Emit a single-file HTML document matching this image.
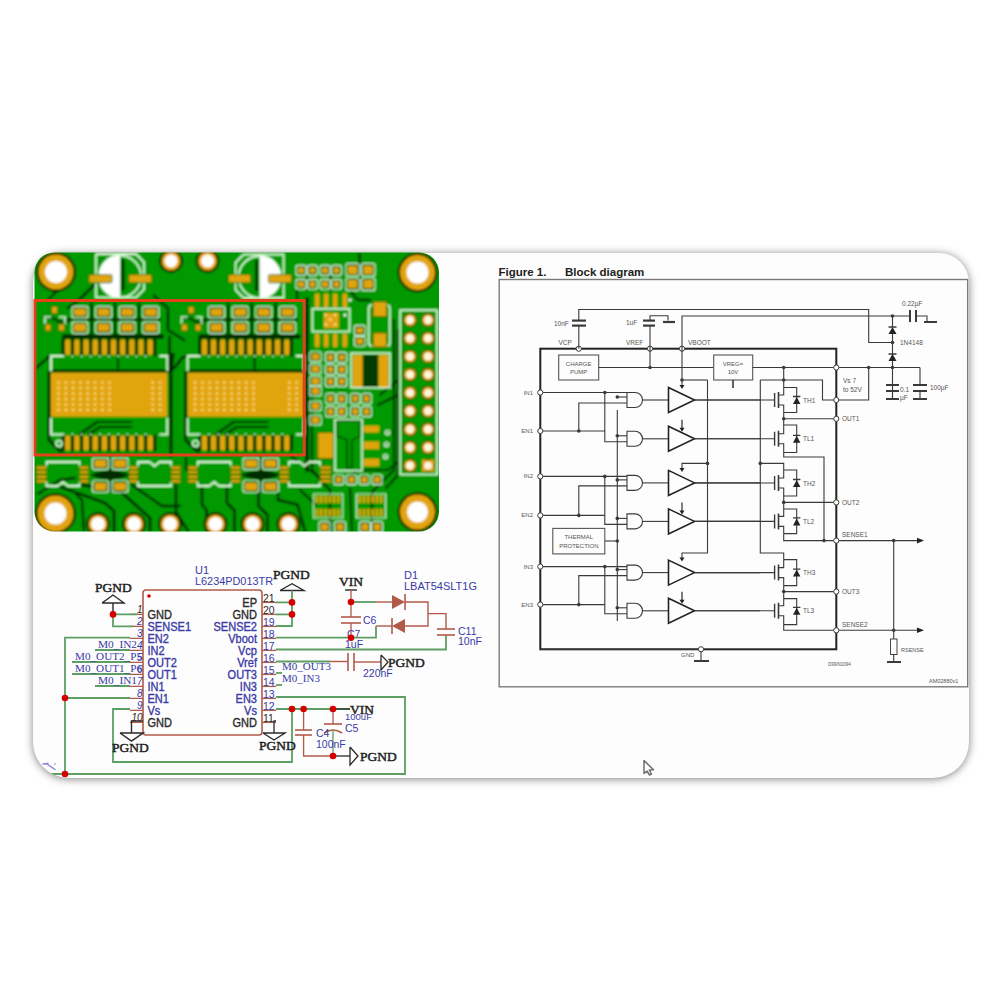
<!DOCTYPE html><html><head><meta charset="utf-8"><style>html,body{margin:0;padding:0;background:#fff;width:1000px;height:1000px;overflow:hidden}#panel{position:absolute;left:32.5px;top:253px;width:936.5px;height:525px;border-radius:30px 30px 36px 36px;background:#fdfdfd;box-shadow:0 1px 9px rgba(0,0,0,0.5)}svg{position:absolute;left:0;top:0}</style></head><body><div id="panel"></div>
<svg width="1000" height="1000" viewBox="0 0 1000 1000">
<defs><clipPath id="panelclip"><path d="M62.5,253 L939,253 A30,30 0 0 1 969,283 L969,742 A36,36 0 0 1 933,778 L68.5,778 A36,36 0 0 1 32.5,742 L32.5,283 A30,30 0 0 1 62.5,253 Z"/></clipPath></defs>
<g clip-path="url(#panelclip)">
<rect x="143" y="590" width="119" height="145" rx="3" fill="none" stroke="#b25a4a" stroke-width="1.6"/>
<path d="M130.0,614.4 L143.0,614.4" fill="none" stroke="#b25a4a" stroke-width="1.3" />
<path d="M130.0,626.4 L143.0,626.4" fill="none" stroke="#b25a4a" stroke-width="1.3" />
<path d="M130.0,638.4 L143.0,638.4" fill="none" stroke="#b25a4a" stroke-width="1.3" />
<path d="M130.0,650.4 L143.0,650.4" fill="none" stroke="#b25a4a" stroke-width="1.3" />
<path d="M130.0,662.4 L143.0,662.4" fill="none" stroke="#b25a4a" stroke-width="1.3" />
<path d="M130.0,674.4 L143.0,674.4" fill="none" stroke="#b25a4a" stroke-width="1.3" />
<path d="M130.0,686.4 L143.0,686.4" fill="none" stroke="#b25a4a" stroke-width="1.3" />
<path d="M130.0,698.4 L143.0,698.4" fill="none" stroke="#b25a4a" stroke-width="1.3" />
<path d="M130.0,710.4 L143.0,710.4" fill="none" stroke="#b25a4a" stroke-width="1.3" />
<path d="M130.0,722.4 L143.0,722.4" fill="none" stroke="#b25a4a" stroke-width="1.3" />
<path d="M262.0,602.4 L276.0,602.4" fill="none" stroke="#b25a4a" stroke-width="1.3" />
<path d="M262.0,614.4 L276.0,614.4" fill="none" stroke="#b25a4a" stroke-width="1.3" />
<path d="M262.0,626.4 L276.0,626.4" fill="none" stroke="#b25a4a" stroke-width="1.3" />
<path d="M262.0,638.4 L276.0,638.4" fill="none" stroke="#b25a4a" stroke-width="1.3" />
<path d="M262.0,650.4 L276.0,650.4" fill="none" stroke="#b25a4a" stroke-width="1.3" />
<path d="M262.0,662.4 L276.0,662.4" fill="none" stroke="#b25a4a" stroke-width="1.3" />
<path d="M262.0,674.4 L276.0,674.4" fill="none" stroke="#b25a4a" stroke-width="1.3" />
<path d="M262.0,686.4 L276.0,686.4" fill="none" stroke="#b25a4a" stroke-width="1.3" />
<path d="M262.0,698.4 L276.0,698.4" fill="none" stroke="#b25a4a" stroke-width="1.3" />
<path d="M262.0,710.4 L276.0,710.4" fill="none" stroke="#b25a4a" stroke-width="1.3" />
<path d="M262.0,722.4 L276.0,722.4" fill="none" stroke="#b25a4a" stroke-width="1.3" />
<text transform="translate(147.5,618.8) scale(0.92,1)" font-family="Liberation Sans" font-size="12" fill="#2a2a2a" stroke="#2a2a2a" stroke-width="0.35">GND</text>
<text transform="translate(147.5,630.8) scale(0.92,1)" font-family="Liberation Sans" font-size="12" fill="#3a3aa6" stroke="#3a3aa6" stroke-width="0.35">SENSE1</text>
<text transform="translate(147.5,642.8) scale(0.92,1)" font-family="Liberation Sans" font-size="12" fill="#3a3aa6" stroke="#3a3aa6" stroke-width="0.35">EN2</text>
<text transform="translate(147.5,654.8) scale(0.92,1)" font-family="Liberation Sans" font-size="12" fill="#3a3aa6" stroke="#3a3aa6" stroke-width="0.35">IN2</text>
<text transform="translate(147.5,666.8) scale(0.92,1)" font-family="Liberation Sans" font-size="12" fill="#3a3aa6" stroke="#3a3aa6" stroke-width="0.35">OUT2</text>
<text transform="translate(147.5,678.8) scale(0.92,1)" font-family="Liberation Sans" font-size="12" fill="#3a3aa6" stroke="#3a3aa6" stroke-width="0.35">OUT1</text>
<text transform="translate(147.5,690.8) scale(0.92,1)" font-family="Liberation Sans" font-size="12" fill="#3a3aa6" stroke="#3a3aa6" stroke-width="0.35">IN1</text>
<text transform="translate(147.5,702.8) scale(0.92,1)" font-family="Liberation Sans" font-size="12" fill="#3a3aa6" stroke="#3a3aa6" stroke-width="0.35">EN1</text>
<text transform="translate(147.5,714.8) scale(0.92,1)" font-family="Liberation Sans" font-size="12" fill="#3a3aa6" stroke="#3a3aa6" stroke-width="0.35">Vs</text>
<text transform="translate(147.5,726.8) scale(0.92,1)" font-family="Liberation Sans" font-size="12" fill="#2a2a2a" stroke="#2a2a2a" stroke-width="0.35">GND</text>
<text transform="translate(257,606.8) scale(0.92,1)" font-family="Liberation Sans" font-size="12" fill="#2a2a2a" stroke="#2a2a2a" stroke-width="0.35" text-anchor="end">EP</text>
<text transform="translate(257,618.8) scale(0.92,1)" font-family="Liberation Sans" font-size="12" fill="#2a2a2a" stroke="#2a2a2a" stroke-width="0.35" text-anchor="end">GND</text>
<text transform="translate(257,630.8) scale(0.92,1)" font-family="Liberation Sans" font-size="12" fill="#3a3aa6" stroke="#3a3aa6" stroke-width="0.35" text-anchor="end">SENSE2</text>
<text transform="translate(257,642.8) scale(0.92,1)" font-family="Liberation Sans" font-size="12" fill="#3a3aa6" stroke="#3a3aa6" stroke-width="0.35" text-anchor="end">Vboot</text>
<text transform="translate(257,654.8) scale(0.92,1)" font-family="Liberation Sans" font-size="12" fill="#3a3aa6" stroke="#3a3aa6" stroke-width="0.35" text-anchor="end">Vcp</text>
<text transform="translate(257,666.8) scale(0.92,1)" font-family="Liberation Sans" font-size="12" fill="#3a3aa6" stroke="#3a3aa6" stroke-width="0.35" text-anchor="end">Vref</text>
<text transform="translate(257,678.8) scale(0.92,1)" font-family="Liberation Sans" font-size="12" fill="#3a3aa6" stroke="#3a3aa6" stroke-width="0.35" text-anchor="end">OUT3</text>
<text transform="translate(257,690.8) scale(0.92,1)" font-family="Liberation Sans" font-size="12" fill="#3a3aa6" stroke="#3a3aa6" stroke-width="0.35" text-anchor="end">IN3</text>
<text transform="translate(257,702.8) scale(0.92,1)" font-family="Liberation Sans" font-size="12" fill="#3a3aa6" stroke="#3a3aa6" stroke-width="0.35" text-anchor="end">EN3</text>
<text transform="translate(257,714.8) scale(0.92,1)" font-family="Liberation Sans" font-size="12" fill="#3a3aa6" stroke="#3a3aa6" stroke-width="0.35" text-anchor="end">Vs</text>
<text transform="translate(257,726.8) scale(0.92,1)" font-family="Liberation Sans" font-size="12" fill="#2a2a2a" stroke="#2a2a2a" stroke-width="0.35" text-anchor="end">GND</text>
<text x="142.5" y="612.9" font-family="Liberation Sans" font-size="10" fill="#2a2a2a" text-anchor="end" font-style="italic">1</text>
<text x="142.5" y="624.9" font-family="Liberation Sans" font-size="10" fill="#3a3aa6" text-anchor="end" font-style="italic">2</text>
<text x="142.5" y="636.9" font-family="Liberation Sans" font-size="10" fill="#3a3aa6" text-anchor="end" font-style="italic">3</text>
<text x="142.5" y="648.9" font-family="Liberation Sans" font-size="10" fill="#3a3aa6" text-anchor="end" font-style="italic">4</text>
<text x="142.5" y="660.9" font-family="Liberation Sans" font-size="10" fill="#3a3aa6" text-anchor="end" font-style="italic">5</text>
<text x="142.5" y="672.9" font-family="Liberation Sans" font-size="10" fill="#3a3aa6" text-anchor="end" font-style="italic">6</text>
<text x="142.5" y="684.9" font-family="Liberation Sans" font-size="10" fill="#3a3aa6" text-anchor="end" font-style="italic">7</text>
<text x="142.5" y="696.9" font-family="Liberation Sans" font-size="10" fill="#3a3aa6" text-anchor="end" font-style="italic">8</text>
<text x="142.5" y="708.9" font-family="Liberation Sans" font-size="10" fill="#3a3aa6" text-anchor="end" font-style="italic">9</text>
<text x="142.5" y="720.9" font-family="Liberation Sans" font-size="10" fill="#2a2a2a" text-anchor="end" font-style="italic">10</text>
<text x="263" y="601.5" font-family="Liberation Sans" font-size="10.5" fill="#2a2a2a" text-anchor="start" >21</text>
<text x="263" y="613.5" font-family="Liberation Sans" font-size="10.5" fill="#2a2a2a" text-anchor="start" >20</text>
<text x="263" y="625.5" font-family="Liberation Sans" font-size="10.5" fill="#3a3aa6" text-anchor="start" >19</text>
<text x="263" y="637.5" font-family="Liberation Sans" font-size="10.5" fill="#3a3aa6" text-anchor="start" >18</text>
<text x="263" y="649.5" font-family="Liberation Sans" font-size="10.5" fill="#3a3aa6" text-anchor="start" >17</text>
<text x="263" y="661.5" font-family="Liberation Sans" font-size="10.5" fill="#3a3aa6" text-anchor="start" >16</text>
<text x="263" y="673.5" font-family="Liberation Sans" font-size="10.5" fill="#3a3aa6" text-anchor="start" >15</text>
<text x="263" y="685.5" font-family="Liberation Sans" font-size="10.5" fill="#3a3aa6" text-anchor="start" >14</text>
<text x="263" y="697.5" font-family="Liberation Sans" font-size="10.5" fill="#3a3aa6" text-anchor="start" >13</text>
<text x="263" y="709.5" font-family="Liberation Sans" font-size="10.5" fill="#3a3aa6" text-anchor="start" >12</text>
<text x="263" y="721.5" font-family="Liberation Sans" font-size="10.5" fill="#2a2a2a" text-anchor="start" >11</text>
<text x="195" y="574" font-family="Liberation Sans" font-size="11" fill="#3a3aa6" text-anchor="start" >U1</text>
<text x="195" y="585" font-family="Liberation Sans" font-size="11" fill="#3a3aa6" text-anchor="start" textLength="78" lengthAdjust="spacingAndGlyphs">L6234PD013TR</text>
<text x="95" y="591.5" font-family="Liberation Serif" font-size="13.5" fill="#222" text-anchor="start" stroke="#222" stroke-width="0.45">PGND</text>
<path d="M102.0,603.0 L113.0,595.0 L124.0,603.0 L102.0,603.0" fill="none" stroke="#2a2a2a" stroke-width="1.4" />
<path d="M113.0,603.0 L113.0,614.4" fill="none" stroke="#2a2a2a" stroke-width="1.4" />
<path d="M113.0,614.4 L113.0,626.4 L133.0,626.4" fill="none" stroke="#5d9e62" stroke-width="1.8" />
<path d="M113.0,614.4 L137.0,614.4" fill="none" stroke="#5d9e62" stroke-width="1.8" />
<path d="M130.0,637.6 L65.0,637.6 L65.0,775.0" fill="none" stroke="#5d9e62" stroke-width="1.8" />
<path d="M65.0,698.0 L130.0,698.0" fill="none" stroke="#5d9e62" stroke-width="1.8" />
<path d="M95.0,650.0 L130.0,650.0" fill="none" stroke="#5d9e62" stroke-width="1.8" />
<text x="98" y="647.5" font-family="Liberation Serif" font-size="11" fill="#3a3aa6" text-anchor="start" textLength="39" lengthAdjust="spacingAndGlyphs">M0_IN2</text>
<path d="M72.0,662.0 L130.0,662.0" fill="none" stroke="#5d9e62" stroke-width="1.8" />
<text x="75" y="659.5" font-family="Liberation Serif" font-size="11" fill="#3a3aa6" text-anchor="start" textLength="67" lengthAdjust="spacingAndGlyphs">M0_OUT2_P5</text>
<path d="M72.0,674.0 L130.0,674.0" fill="none" stroke="#5d9e62" stroke-width="1.8" />
<text x="75" y="671.5" font-family="Liberation Serif" font-size="11" fill="#3a3aa6" text-anchor="start" textLength="67" lengthAdjust="spacingAndGlyphs">M0_OUT1_P6</text>
<path d="M95.0,686.0 L130.0,686.0" fill="none" stroke="#5d9e62" stroke-width="1.8" />
<text x="98" y="683.5" font-family="Liberation Serif" font-size="11" fill="#3a3aa6" text-anchor="start" textLength="39" lengthAdjust="spacingAndGlyphs">M0_IN1</text>
<path d="M130.0,709.0 L113.0,709.0 L113.0,762.0 L292.0,762.0 L292.0,709.0" fill="none" stroke="#5d9e62" stroke-width="1.8" />
<path d="M35.0,774.0 L405.0,774.0 L405.0,697.0 L276.0,697.0" fill="none" stroke="#5d9e62" stroke-width="1.8" />
<path d="M143.0,721.0 L131.5,721.0 L131.5,733.0" fill="none" stroke="#2a2a2a" stroke-width="1.4" />
<path d="M120.0,733.0 L131.5,741.0 L143.0,733.0 L120.0,733.0" fill="none" stroke="#2a2a2a" stroke-width="1.5" />
<text x="112" y="752" font-family="Liberation Serif" font-size="13.5" fill="#222" text-anchor="start" stroke="#222" stroke-width="0.45">PGND</text>
<text x="273" y="579" font-family="Liberation Serif" font-size="13.5" fill="#222" text-anchor="start" stroke="#222" stroke-width="0.45">PGND</text>
<path d="M280.0,590.5 L292.0,583.7 L304.0,590.5 L280.0,590.5" fill="none" stroke="#2a2a2a" stroke-width="1.4" />
<path d="M292.0,590.5 L292.0,626.0 L276.0,626.0" fill="none" stroke="#5d9e62" stroke-width="1.8" />
<path d="M276.0,602.4 L292.0,602.4" fill="none" stroke="#5d9e62" stroke-width="1.8" />
<path d="M276.0,614.4 L292.0,614.4" fill="none" stroke="#5d9e62" stroke-width="1.8" />
<path d="M276.0,721.0 L274.0,721.0 L274.0,733.0" fill="none" stroke="#2a2a2a" stroke-width="1.3" />
<path d="M263.0,733.0 L274.0,740.0 L285.0,733.0 L263.0,733.0" fill="none" stroke="#2a2a2a" stroke-width="1.4" />
<text x="259" y="750" font-family="Liberation Serif" font-size="13.5" fill="#222" text-anchor="start" stroke="#222" stroke-width="0.45">PGND</text>
<path d="M276.0,637.7 L351.0,637.7" fill="none" stroke="#5d9e62" stroke-width="1.8" />
<path d="M276.0,649.5 L446.0,649.5 L446.0,635.0" fill="none" stroke="#5d9e62" stroke-width="1.8" />
<path d="M276.0,661.5 L330.0,661.5" fill="none" stroke="#5d9e62" stroke-width="1.8" />
<path d="M330.0,661.5 L348.0,661.5" fill="none" stroke="#b25a4a" stroke-width="1.4" />
<path d="M348.0,653.0 L348.0,671.0" fill="none" stroke="#b25a4a" stroke-width="1.6" />
<path d="M354.0,653.0 L354.0,671.0" fill="none" stroke="#b25a4a" stroke-width="1.6" />
<path d="M354.0,662.0 L381.0,662.0" fill="none" stroke="#b25a4a" stroke-width="1.4" />
<path d="M381.0,655.0 L388.0,662.0 L381.0,670.0 L381.0,655.0" fill="none" stroke="#2a2a2a" stroke-width="1.3" />
<text x="388" y="667" font-family="Liberation Serif" font-size="13.5" fill="#222" text-anchor="start" stroke="#222" stroke-width="0.45">PGND</text>
<text x="363" y="677" font-family="Liberation Sans" font-size="10.5" fill="#3a3aa6" text-anchor="start" >220nF</text>
<path d="M276.0,673.0 L282.0,673.0" fill="none" stroke="#5d9e62" stroke-width="1.8" />
<path d="M276.0,685.0 L282.0,685.0" fill="none" stroke="#5d9e62" stroke-width="1.8" />
<text x="282" y="670" font-family="Liberation Serif" font-size="11" fill="#3a3aa6" text-anchor="start" >M0_OUT3</text>
<text x="282" y="682" font-family="Liberation Serif" font-size="11" fill="#3a3aa6" text-anchor="start" >M0_IN3</text>
<text x="339" y="586" font-family="Liberation Serif" font-size="13.5" fill="#222" text-anchor="start" stroke="#222" stroke-width="0.45">VIN</text>
<path d="M345.0,590.0 L357.0,590.0" fill="none" stroke="#2a2a2a" stroke-width="1.4" />
<path d="M351.0,590.0 L351.0,617.0" fill="none" stroke="#b25a4a" stroke-width="1.3" />
<path d="M341.0,617.0 L361.0,617.0" fill="none" stroke="#b25a4a" stroke-width="1.6" />
<path d="M341.0,623.0 L361.0,623.0" fill="none" stroke="#b25a4a" stroke-width="1.6" />
<path d="M351.0,623.0 L351.0,637.7" fill="none" stroke="#b25a4a" stroke-width="1.3" />
<text x="363" y="624" font-family="Liberation Sans" font-size="10.5" fill="#3a3aa6" text-anchor="start" >C6</text>
<text x="347" y="638" font-family="Liberation Sans" font-size="10.5" fill="#3a3aa6" text-anchor="start" >C7</text>
<text x="345" y="647.5" font-family="Liberation Sans" font-size="10.5" fill="#3a3aa6" text-anchor="start" >1uF</text>
<path d="M351.0,602.0 L376.0,602.0" fill="none" stroke="#5d9e62" stroke-width="1.8" />
<path d="M376.0,602.0 L392.0,602.0" fill="none" stroke="#b25a4a" stroke-width="1.4" />
<path d="M392,595 L405,602 L392,609 Z" fill="#b25a4a"/>
<path d="M405.0,594.0 L405.0,610.0" fill="none" stroke="#b25a4a" stroke-width="1.6" />
<path d="M405.0,602.0 L428.0,602.0 L428.0,626.0 L405.0,626.0" fill="none" stroke="#b25a4a" stroke-width="1.4" />
<path d="M405,619 L392,626 L405,633 Z" fill="#b25a4a"/>
<path d="M392.0,618.0 L392.0,634.0" fill="none" stroke="#b25a4a" stroke-width="1.6" />
<path d="M392.0,626.0 L376.0,626.0" fill="none" stroke="#b25a4a" stroke-width="1.4" />
<path d="M376.0,626.0 L376.0,637.7 L351.0,637.7" fill="none" stroke="#5d9e62" stroke-width="1.8" />
<path d="M428.0,613.6 L446.0,613.6 L446.0,629.0" fill="none" stroke="#b25a4a" stroke-width="1.4" />
<path d="M437.0,629.0 L455.0,629.0" fill="none" stroke="#b25a4a" stroke-width="1.6" />
<path d="M437.0,635.0 L455.0,635.0" fill="none" stroke="#b25a4a" stroke-width="1.6" />
<text x="404" y="579" font-family="Liberation Sans" font-size="11" fill="#3a3aa6" text-anchor="start" >D1</text>
<text x="404" y="590" font-family="Liberation Sans" font-size="11" fill="#3a3aa6" text-anchor="start" >LBAT54SLT1G</text>
<text x="458" y="635" font-family="Liberation Sans" font-size="10.5" fill="#3a3aa6" text-anchor="start" >C11</text>
<text x="458" y="645" font-family="Liberation Sans" font-size="10.5" fill="#3a3aa6" text-anchor="start" >10nF</text>
<path d="M276.0,709.0 L350.0,709.0" fill="none" stroke="#5d9e62" stroke-width="1.8" />
<path d="M303.6,709.0 L303.6,730.0" fill="none" stroke="#b25a4a" stroke-width="1.3" />
<path d="M295.0,730.0 L312.0,730.0" fill="none" stroke="#b25a4a" stroke-width="1.6" />
<path d="M295.0,735.0 L312.0,735.0" fill="none" stroke="#b25a4a" stroke-width="1.6" />
<path d="M303.6,735.0 L303.6,756.0 L333.0,756.0" fill="none" stroke="#b25a4a" stroke-width="1.3" />
<path d="M333.0,709.0 L333.0,724.0" fill="none" stroke="#b25a4a" stroke-width="1.3" />
<path d="M324.0,724.0 L342.0,724.0" fill="none" stroke="#b25a4a" stroke-width="1.6" />
<path d="M324,733 Q333,727 342,733" fill="none" stroke="#b25a4a" stroke-width="1.6"/>
<path d="M333.0,730.0 L333.0,756.0" fill="none" stroke="#5d9e62" stroke-width="1.3" />
<path d="M333.0,756.0 L350.0,756.0" fill="none" stroke="#2a2a2a" stroke-width="1.3" />
<path d="M350.0,747.0 L358.0,756.0 L350.0,765.0 L350.0,747.0" fill="none" stroke="#2a2a2a" stroke-width="1.3" />
<text x="360" y="761" font-family="Liberation Serif" font-size="13.5" fill="#222" text-anchor="start" stroke="#222" stroke-width="0.45">PGND</text>
<path d="M333.0,709.0 L350.0,709.0" fill="none" stroke="#2a2a2a" stroke-width="1.2" />
<text x="350" y="714" font-family="Liberation Serif" font-size="13.5" fill="#222" text-anchor="start" stroke="#222" stroke-width="0.45">VIN</text>
<text x="345" y="720" font-family="Liberation Sans" font-size="9.5" fill="#3a3aa6" text-anchor="start" >100uF</text>
<text x="345" y="732" font-family="Liberation Sans" font-size="10.5" fill="#3a3aa6" text-anchor="start" >C5</text>
<text x="316" y="737" font-family="Liberation Sans" font-size="10.5" fill="#3a3aa6" text-anchor="start" >C4</text>
<text x="316" y="748" font-family="Liberation Sans" font-size="10.5" fill="#3a3aa6" text-anchor="start" >100nF</text>
<path d="M43,764 L48,763.5 M47,764 L55,769.5" stroke="#8282d8" stroke-width="1.4" fill="none" stroke-linecap="round"/>
<circle cx="55" cy="764" r="0.8" fill="#888"/>
<circle cx="149" cy="596" r="1.8" fill="#d40000"/>
<circle cx="113" cy="614.4" r="3.3" fill="#d40000"/>
<circle cx="65" cy="698" r="3.3" fill="#d40000"/>
<circle cx="65" cy="774" r="3.3" fill="#d40000"/>
<circle cx="292" cy="602.4" r="3.3" fill="#d40000"/>
<circle cx="292" cy="614.4" r="3.3" fill="#d40000"/>
<circle cx="351" cy="602" r="3.3" fill="#d40000"/>
<circle cx="351" cy="637.7" r="3.3" fill="#d40000"/>
<circle cx="292" cy="709" r="3.3" fill="#d40000"/>
<circle cx="303.6" cy="709" r="3.3" fill="#d40000"/>
<circle cx="333" cy="709" r="3.3" fill="#d40000"/>
<circle cx="333" cy="756" r="3.3" fill="#d40000"/>
<rect x="499.2" y="279.5" width="468.5" height="407.3" fill="none" stroke="#7a7a7a" stroke-width="1.4"/>
<text x="498.5" y="276" font-family="Liberation Sans" font-weight="bold" font-size="11.5" fill="#222">Figure 1.</text>
<text x="565" y="276" font-family="Liberation Sans" font-weight="bold" font-size="11.5" fill="#222">Block diagram</text>
<rect x="540.3" y="348.7" width="296" height="300.6" fill="none" stroke="#222" stroke-width="2"/>
<circle cx="578.8" cy="348.7" r="2.6" fill="#fff" stroke="#3a3a3a" stroke-width="1"/>
<circle cx="650" cy="348.7" r="2.6" fill="#fff" stroke="#3a3a3a" stroke-width="1"/>
<circle cx="682" cy="348.7" r="2.6" fill="#fff" stroke="#3a3a3a" stroke-width="1"/>
<text x="558.5" y="345" font-family="Liberation Sans" font-size="6.5" fill="#555" text-anchor="start" >VCP</text>
<text x="626" y="345" font-family="Liberation Sans" font-size="6.5" fill="#555" text-anchor="start" >VREF</text>
<text x="688" y="345" font-family="Liberation Sans" font-size="6.5" fill="#555" text-anchor="start" >VBOOT</text>
<path d="M578.8,348.7 L578.8,325.6" fill="none" stroke="#3a3a3a" stroke-width="1.1" />
<path d="M572.0,325.6 L586.0,325.6" fill="none" stroke="#3a3a3a" stroke-width="2.2" />
<path d="M572.0,320.6 L586.0,320.6" fill="none" stroke="#3a3a3a" stroke-width="2.2" />
<path d="M578.8,321.0 L578.8,309.5 L868.7,309.5 L868.7,342.5 L892.5,342.5" fill="none" stroke="#3a3a3a" stroke-width="1.1" />
<text x="554" y="326" font-family="Liberation Sans" font-size="6.5" fill="#555" text-anchor="start" >10nF</text>
<path d="M650.0,348.7 L650.0,325.6" fill="none" stroke="#3a3a3a" stroke-width="1.1" />
<path d="M643.0,325.6 L655.0,325.6" fill="none" stroke="#3a3a3a" stroke-width="2.2" />
<path d="M643.0,320.6 L655.0,320.6" fill="none" stroke="#3a3a3a" stroke-width="2.2" />
<path d="M650.0,321.0 L650.0,315.8 L668.0,315.8 L668.0,320.6" fill="none" stroke="#3a3a3a" stroke-width="1.1" />
<path d="M663.0,322.0 L675.0,322.0" fill="none" stroke="#3a3a3a" stroke-width="2.2" />
<text x="626" y="325" font-family="Liberation Sans" font-size="6.5" fill="#555" text-anchor="start" >1uF</text>
<path d="M682.0,348.7 L682.0,316.0 L892.5,316.0" fill="none" stroke="#3a3a3a" stroke-width="1.1" />
<path d="M892.5,316.0 L910.0,316.0" fill="none" stroke="#3a3a3a" stroke-width="1.1" />
<path d="M910.0,310.0 L910.0,322.0" fill="none" stroke="#3a3a3a" stroke-width="2" />
<path d="M916.0,310.0 L916.0,322.0" fill="none" stroke="#3a3a3a" stroke-width="2" />
<path d="M916.0,316.0 L927.0,316.0 L927.0,321.0" fill="none" stroke="#3a3a3a" stroke-width="1.1" />
<path d="M924.0,322.0 L937.0,322.0" fill="none" stroke="#3a3a3a" stroke-width="2" />
<text x="902" y="306" font-family="Liberation Sans" font-size="6.5" fill="#555" text-anchor="start" >0.22µF</text>
<circle cx="892.5" cy="316" r="1.8" fill="#3a3a3a"/>
<circle cx="892.5" cy="342.5" r="1.8" fill="#3a3a3a"/>
<circle cx="892.5" cy="367.5" r="1.8" fill="#3a3a3a"/>
<path d="M892.5,316.0 L892.5,400.0" fill="none" stroke="#3a3a3a" stroke-width="1.1" />
<path d="M888.5,334 L896.5,334 L892.5,327 Z" fill="#222"/>
<path d="M888.5,327.0 L896.5,327.0" fill="none" stroke="#3a3a3a" stroke-width="1.3" />
<path d="M888.5,361 L896.5,361 L892.5,354 Z" fill="#222"/>
<path d="M888.5,354.0 L896.5,354.0" fill="none" stroke="#3a3a3a" stroke-width="1.3" />
<text x="900" y="345" font-family="Liberation Sans" font-size="6.5" fill="#555" text-anchor="start" >1N4148</text>
<path d="M886.0,385.0 L899.0,385.0" fill="none" stroke="#3a3a3a" stroke-width="2.2" />
<path d="M886.0,391.0 L899.0,391.0" fill="none" stroke="#3a3a3a" stroke-width="2.2" />
<path d="M886.0,399.0 L899.0,399.0" fill="none" stroke="#3a3a3a" stroke-width="2.2" />
<path d="M920.0,367.5 L920.0,385.0" fill="none" stroke="#3a3a3a" stroke-width="1.1" />
<path d="M913.0,385.0 L927.0,385.0" fill="none" stroke="#3a3a3a" stroke-width="2.2" />
<path d="M913.0,391.0 L927.0,391.0" fill="none" stroke="#3a3a3a" stroke-width="2.2" />
<path d="M913.0,399.0 L927.0,399.0" fill="none" stroke="#3a3a3a" stroke-width="2.2" />
<path d="M920.0,391.0 L920.0,399.0" fill="none" stroke="#3a3a3a" stroke-width="1.1" />
<path d="M892.5,391.0 L892.5,399.0" fill="none" stroke="#3a3a3a" stroke-width="1.1" />
<text x="900" y="392" font-family="Liberation Sans" font-size="6.5" fill="#555" text-anchor="start" >0.1</text>
<text x="900" y="400" font-family="Liberation Sans" font-size="6.5" fill="#555" text-anchor="start" >µF</text>
<text x="930" y="390" font-family="Liberation Sans" font-size="6.5" fill="#555" text-anchor="start" >100µF</text>
<rect x="558.7" y="355" width="40" height="25" fill="#fdfdfd" stroke="#555" stroke-width="1.1"/>
<text x="578.7" y="366" font-family="Liberation Sans" font-size="6" fill="#555" text-anchor="middle" >CHARGE</text>
<text x="578.7" y="374" font-family="Liberation Sans" font-size="6" fill="#555" text-anchor="middle" >PUMP</text>
<path d="M598.7,367.5 L713.7,367.5" fill="none" stroke="#3a3a3a" stroke-width="1.1" />
<path d="M650.0,348.7 L650.0,367.5" fill="none" stroke="#3a3a3a" stroke-width="1.1" />
<circle cx="650" cy="367.5" r="1.8" fill="#3a3a3a"/>
<rect x="713.7" y="355" width="39" height="25" fill="#fdfdfd" stroke="#555" stroke-width="1.1"/>
<text x="733" y="366" font-family="Liberation Sans" font-size="6" fill="#555" text-anchor="middle" >VREG=</text>
<text x="733" y="374" font-family="Liberation Sans" font-size="6" fill="#555" text-anchor="middle" >10V</text>
<path d="M733.0,380.0 L733.0,388.0" fill="none" stroke="#3a3a3a" stroke-width="1.6" />
<path d="M752.7,367.5 L836.3,367.5" fill="none" stroke="#3a3a3a" stroke-width="1.1" />
<circle cx="836.3" cy="367.5" r="2.6" fill="#fff" stroke="#3a3a3a" stroke-width="1"/>
<path d="M838.9,367.5 L920.0,367.5" fill="none" stroke="#3a3a3a" stroke-width="1.1" />
<path d="M868.7,367.5 L868.7,400.0 L838.9,400.0" fill="none" stroke="#3a3a3a" stroke-width="1.1" />
<circle cx="836.3" cy="400" r="2.6" fill="#fff" stroke="#3a3a3a" stroke-width="1"/>
<circle cx="868.7" cy="367.5" r="1.8" fill="#3a3a3a"/>
<text x="843" y="383" font-family="Liberation Sans" font-size="6.5" fill="#555" text-anchor="start" >Vs 7</text>
<text x="843" y="392" font-family="Liberation Sans" font-size="6.5" fill="#555" text-anchor="start" >to 52V</text>
<rect x="552.8" y="528.4" width="52" height="25.5" fill="#fdfdfd" stroke="#555" stroke-width="1.1"/>
<text x="578.8" y="539" font-family="Liberation Sans" font-size="6" fill="#555" text-anchor="middle" >THERMAL</text>
<text x="578.8" y="548" font-family="Liberation Sans" font-size="6" fill="#555" text-anchor="middle" >PROTECTION</text>
<path d="M604.8,541.0 L617.3,541.0" fill="none" stroke="#3a3a3a" stroke-width="1.1" />
<circle cx="617.3" cy="541" r="1.8" fill="#3a3a3a"/>
<circle cx="540.3" cy="392.5" r="2.6" fill="#fff" stroke="#3a3a3a" stroke-width="1"/>
<circle cx="540.3" cy="431" r="2.6" fill="#fff" stroke="#3a3a3a" stroke-width="1"/>
<path d="M542.8,392.5 L627.0,392.5" fill="none" stroke="#3a3a3a" stroke-width="1.1" />
<path d="M542.8,431.0 L604.8,431.0" fill="none" stroke="#3a3a3a" stroke-width="1.1" />
<circle cx="604.8" cy="392.5" r="1.8" fill="#3a3a3a"/>
<circle cx="578.8" cy="431" r="1.8" fill="#3a3a3a"/>
<path d="M604.8,392.5 L604.8,441.8 L627.0,441.8" fill="none" stroke="#3a3a3a" stroke-width="1.1" />
<path d="M578.8,431.0 L578.8,403.0 L627.0,403.0" fill="none" stroke="#3a3a3a" stroke-width="1.1" />
<path d="M627,392.5 L635,392.5 A7.5,7.5 0 0 1 635,407.5 L627,407.5 Z" fill="#fdfdfd" stroke="#3a3a3a" stroke-width="1.1"/>
<path d="M643.0,400.0 L668.5,400.0" fill="none" stroke="#3a3a3a" stroke-width="1.1" />
<path d="M668.5,387.5 L694.5,400 L668.5,412.5 Z" fill="#fdfdfd" stroke="#222" stroke-width="1.6"/>
<path d="M694.5,400.0 L760.0,400.0" fill="none" stroke="#3a3a3a" stroke-width="1.1" />
<path d="M627,431.3 L635,431.3 A7.5,7.5 0 0 1 635,446.3 L627,446.3 Z" fill="#fdfdfd" stroke="#3a3a3a" stroke-width="1.1"/>
<path d="M643.0,438.8 L668.5,438.8" fill="none" stroke="#3a3a3a" stroke-width="1.1" />
<path d="M668.5,426.3 L694.5,438.8 L668.5,451.3 Z" fill="#fdfdfd" stroke="#222" stroke-width="1.6"/>
<path d="M694.5,438.8 L760.0,438.8" fill="none" stroke="#3a3a3a" stroke-width="1.1" />
<circle cx="540.3" cy="476.4" r="2.6" fill="#fff" stroke="#3a3a3a" stroke-width="1"/>
<circle cx="540.3" cy="515.4" r="2.6" fill="#fff" stroke="#3a3a3a" stroke-width="1"/>
<path d="M542.8,476.4 L627.0,476.4" fill="none" stroke="#3a3a3a" stroke-width="1.1" />
<path d="M542.8,515.4 L604.8,515.4" fill="none" stroke="#3a3a3a" stroke-width="1.1" />
<circle cx="604.8" cy="476.4" r="1.8" fill="#3a3a3a"/>
<circle cx="578.8" cy="515.4" r="1.8" fill="#3a3a3a"/>
<path d="M604.8,476.4 L604.8,524.4 L627.0,524.4" fill="none" stroke="#3a3a3a" stroke-width="1.1" />
<path d="M578.8,515.4 L578.8,485.9 L627.0,485.9" fill="none" stroke="#3a3a3a" stroke-width="1.1" />
<path d="M627,475.4 L635,475.4 A7.5,7.5 0 0 1 635,490.4 L627,490.4 Z" fill="#fdfdfd" stroke="#3a3a3a" stroke-width="1.1"/>
<path d="M643.0,482.9 L668.5,482.9" fill="none" stroke="#3a3a3a" stroke-width="1.1" />
<path d="M668.5,470.4 L694.5,482.9 L668.5,495.4 Z" fill="#fdfdfd" stroke="#222" stroke-width="1.6"/>
<path d="M694.5,482.9 L760.0,482.9" fill="none" stroke="#3a3a3a" stroke-width="1.1" />
<path d="M627,513.9 L635,513.9 A7.5,7.5 0 0 1 635,528.9 L627,528.9 Z" fill="#fdfdfd" stroke="#3a3a3a" stroke-width="1.1"/>
<path d="M643.0,521.4 L668.5,521.4" fill="none" stroke="#3a3a3a" stroke-width="1.1" />
<path d="M668.5,508.9 L694.5,521.4 L668.5,533.9 Z" fill="#fdfdfd" stroke="#222" stroke-width="1.6"/>
<path d="M694.5,521.4 L760.0,521.4" fill="none" stroke="#3a3a3a" stroke-width="1.1" />
<circle cx="540.3" cy="566.6" r="2.6" fill="#fff" stroke="#3a3a3a" stroke-width="1"/>
<circle cx="540.3" cy="604.6" r="2.6" fill="#fff" stroke="#3a3a3a" stroke-width="1"/>
<path d="M542.8,566.6 L627.0,566.6" fill="none" stroke="#3a3a3a" stroke-width="1.1" />
<path d="M542.8,604.6 L604.8,604.6" fill="none" stroke="#3a3a3a" stroke-width="1.1" />
<circle cx="604.8" cy="566.6" r="1.8" fill="#3a3a3a"/>
<circle cx="578.8" cy="604.6" r="1.8" fill="#3a3a3a"/>
<path d="M604.8,566.6 L604.8,613.8 L627.0,613.8" fill="none" stroke="#3a3a3a" stroke-width="1.1" />
<path d="M578.8,604.6 L578.8,575.6 L627.0,575.6" fill="none" stroke="#3a3a3a" stroke-width="1.1" />
<path d="M627,565.1 L635,565.1 A7.5,7.5 0 0 1 635,580.1 L627,580.1 Z" fill="#fdfdfd" stroke="#3a3a3a" stroke-width="1.1"/>
<path d="M643.0,572.6 L668.5,572.6" fill="none" stroke="#3a3a3a" stroke-width="1.1" />
<path d="M668.5,560.1 L694.5,572.6 L668.5,585.1 Z" fill="#fdfdfd" stroke="#222" stroke-width="1.6"/>
<path d="M694.5,572.6 L760.0,572.6" fill="none" stroke="#3a3a3a" stroke-width="1.1" />
<path d="M627,603.3 L635,603.3 A7.5,7.5 0 0 1 635,618.3 L627,618.3 Z" fill="#fdfdfd" stroke="#3a3a3a" stroke-width="1.1"/>
<path d="M643.0,610.8 L668.5,610.8" fill="none" stroke="#3a3a3a" stroke-width="1.1" />
<path d="M668.5,598.3 L694.5,610.8 L668.5,623.3 Z" fill="#fdfdfd" stroke="#222" stroke-width="1.6"/>
<path d="M694.5,610.8 L760.0,610.8" fill="none" stroke="#3a3a3a" stroke-width="1.1" />
<text x="533" y="394.5" font-family="Liberation Sans" font-size="6" fill="#555" text-anchor="end" >IN1</text>
<text x="533" y="433" font-family="Liberation Sans" font-size="6" fill="#555" text-anchor="end" >EN1</text>
<text x="533" y="478.4" font-family="Liberation Sans" font-size="6" fill="#555" text-anchor="end" >IN2</text>
<text x="533" y="517.4" font-family="Liberation Sans" font-size="6" fill="#555" text-anchor="end" >EN2</text>
<text x="533" y="568.6" font-family="Liberation Sans" font-size="6" fill="#555" text-anchor="end" >IN3</text>
<text x="533" y="606.6" font-family="Liberation Sans" font-size="6" fill="#555" text-anchor="end" >EN3</text>
<path d="M617.3,410.0 L617.3,621.0" fill="none" stroke="#3a3a3a" stroke-width="1.1" />
<path d="M617.3,397.0 L627.0,397.0" fill="none" stroke="#3a3a3a" stroke-width="1.1" />
<circle cx="617.3" cy="397" r="1.8" fill="#3a3a3a"/>
<path d="M617.3,435.8 L627.0,435.8" fill="none" stroke="#3a3a3a" stroke-width="1.1" />
<circle cx="617.3" cy="435.8" r="1.8" fill="#3a3a3a"/>
<path d="M617.3,479.9 L627.0,479.9" fill="none" stroke="#3a3a3a" stroke-width="1.1" />
<circle cx="617.3" cy="479.9" r="1.8" fill="#3a3a3a"/>
<path d="M617.3,518.4 L627.0,518.4" fill="none" stroke="#3a3a3a" stroke-width="1.1" />
<circle cx="617.3" cy="518.4" r="1.8" fill="#3a3a3a"/>
<path d="M617.3,569.6 L627.0,569.6" fill="none" stroke="#3a3a3a" stroke-width="1.1" />
<circle cx="617.3" cy="569.6" r="1.8" fill="#3a3a3a"/>
<path d="M617.3,607.8 L627.0,607.8" fill="none" stroke="#3a3a3a" stroke-width="1.1" />
<circle cx="617.3" cy="607.8" r="1.8" fill="#3a3a3a"/>
<path d="M540.3,649.3 L701.0,649.3" fill="none" stroke="#3a3a3a" stroke-width="1.1" />
<circle cx="701" cy="649.3" r="2.6" fill="#fff" stroke="#3a3a3a" stroke-width="1"/>
<path d="M701.0,652.0 L701.0,660.0" fill="none" stroke="#3a3a3a" stroke-width="1.1" />
<path d="M694.0,661.0 L709.0,661.0" fill="none" stroke="#3a3a3a" stroke-width="2" />
<text x="681" y="657" font-family="Liberation Sans" font-size="6" fill="#555" text-anchor="start" >GND</text>
<path d="M682.0,348.7 L682.0,387.0" fill="none" stroke="#3a3a3a" stroke-width="1.1" />
<path d="M682.0,380.0 L707.5,380.0" fill="none" stroke="#3a3a3a" stroke-width="1.1" />
<circle cx="682" cy="380" r="1.8" fill="#3a3a3a"/>
<path d="M707.5,380.0 L707.5,553.0 L682.0,553.0 L682.0,560.0" fill="none" stroke="#3a3a3a" stroke-width="1.1" />
<path d="M707.5,463.4 L682.0,463.4 L682.0,470.0" fill="none" stroke="#3a3a3a" stroke-width="1.1" />
<circle cx="707.5" cy="463.4" r="1.8" fill="#3a3a3a"/>
<path d="M682.0,419.8 L682.0,429.8" fill="none" stroke="#3a3a3a" stroke-width="1.3" />
<path d="M679.5,427.8 L684.5,427.8 L682,431.8 Z" fill="#222"/>
<path d="M682.0,502.4 L682.0,512.4" fill="none" stroke="#3a3a3a" stroke-width="1.3" />
<path d="M679.5,510.4 L684.5,510.4 L682,514.4 Z" fill="#222"/>
<path d="M682.0,591.8 L682.0,601.8" fill="none" stroke="#3a3a3a" stroke-width="1.3" />
<path d="M679.5,599.8 L684.5,599.8 L682,603.8 Z" fill="#222"/>
<path d="M679.5,385 L684.5,385 L682,389 Z" fill="#222"/>
<path d="M679.5,467.9 L684.5,467.9 L682,471.9 Z" fill="#222"/>
<path d="M679.5,557.6 L684.5,557.6 L682,561.6 Z" fill="#222"/>
<path d="M694.5,400.0 L774.6,400.0" fill="none" stroke="#3a3a3a" stroke-width="1.1" />
<path d="M774.6,393.0 L774.6,407.0" fill="none" stroke="#3a3a3a" stroke-width="1.4" />
<path d="M778.5,392.0 L778.5,408.0" fill="none" stroke="#3a3a3a" stroke-width="1.6" />
<path d="M778.5,395.0 L783.7,395.0 L783.7,387.5" fill="none" stroke="#3a3a3a" stroke-width="1.1" />
<path d="M778.5,405.0 L783.7,405.0 L783.7,412.5" fill="none" stroke="#3a3a3a" stroke-width="1.1" />
<path d="M783.7,387.5 L796.7,387.5 L796.7,412.5 L783.7,412.5" fill="none" stroke="#3a3a3a" stroke-width="1.1" />
<path d="M793,404 L800.4,404 L796.7,397 Z" fill="#222"/>
<path d="M793.0,396.5 L800.4,396.5" fill="none" stroke="#3a3a3a" stroke-width="1.3" />
<text x="803" y="402.5" font-family="Liberation Sans" font-size="6.5" fill="#555" text-anchor="start" >TH1</text>
<path d="M694.5,438.8 L774.6,438.8" fill="none" stroke="#3a3a3a" stroke-width="1.1" />
<path d="M774.6,431.8 L774.6,445.8" fill="none" stroke="#3a3a3a" stroke-width="1.4" />
<path d="M778.5,430.8 L778.5,446.8" fill="none" stroke="#3a3a3a" stroke-width="1.6" />
<path d="M778.5,433.8 L783.7,433.8 L783.7,425.0" fill="none" stroke="#3a3a3a" stroke-width="1.1" />
<path d="M778.5,443.8 L783.7,443.8 L783.7,452.5" fill="none" stroke="#3a3a3a" stroke-width="1.1" />
<path d="M783.7,425.0 L796.7,425.0 L796.7,452.5 L783.7,452.5" fill="none" stroke="#3a3a3a" stroke-width="1.1" />
<path d="M793,442.8 L800.4,442.8 L796.7,435.8 Z" fill="#222"/>
<path d="M793.0,435.3 L800.4,435.3" fill="none" stroke="#3a3a3a" stroke-width="1.3" />
<text x="803" y="441.3" font-family="Liberation Sans" font-size="6.5" fill="#555" text-anchor="start" >TL1</text>
<path d="M694.5,483.0 L774.6,483.0" fill="none" stroke="#3a3a3a" stroke-width="1.1" />
<path d="M774.6,476.0 L774.6,490.0" fill="none" stroke="#3a3a3a" stroke-width="1.4" />
<path d="M778.5,475.0 L778.5,491.0" fill="none" stroke="#3a3a3a" stroke-width="1.6" />
<path d="M778.5,478.0 L783.7,478.0 L783.7,470.0" fill="none" stroke="#3a3a3a" stroke-width="1.1" />
<path d="M778.5,488.0 L783.7,488.0 L783.7,496.0" fill="none" stroke="#3a3a3a" stroke-width="1.1" />
<path d="M783.7,470.0 L796.7,470.0 L796.7,496.0 L783.7,496.0" fill="none" stroke="#3a3a3a" stroke-width="1.1" />
<path d="M793,487 L800.4,487 L796.7,480 Z" fill="#222"/>
<path d="M793.0,479.5 L800.4,479.5" fill="none" stroke="#3a3a3a" stroke-width="1.3" />
<text x="803" y="485.5" font-family="Liberation Sans" font-size="6.5" fill="#555" text-anchor="start" >TH2</text>
<path d="M694.5,521.4 L774.6,521.4" fill="none" stroke="#3a3a3a" stroke-width="1.1" />
<path d="M774.6,514.4 L774.6,528.4" fill="none" stroke="#3a3a3a" stroke-width="1.4" />
<path d="M778.5,513.4 L778.5,529.4" fill="none" stroke="#3a3a3a" stroke-width="1.6" />
<path d="M778.5,516.4 L783.7,516.4 L783.7,509.0" fill="none" stroke="#3a3a3a" stroke-width="1.1" />
<path d="M778.5,526.4 L783.7,526.4 L783.7,533.6" fill="none" stroke="#3a3a3a" stroke-width="1.1" />
<path d="M783.7,509.0 L796.7,509.0 L796.7,533.6 L783.7,533.6" fill="none" stroke="#3a3a3a" stroke-width="1.1" />
<path d="M793,525.4 L800.4,525.4 L796.7,518.4 Z" fill="#222"/>
<path d="M793.0,517.9 L800.4,517.9" fill="none" stroke="#3a3a3a" stroke-width="1.3" />
<text x="803" y="523.9" font-family="Liberation Sans" font-size="6.5" fill="#555" text-anchor="start" >TL2</text>
<path d="M694.5,572.6 L774.6,572.6" fill="none" stroke="#3a3a3a" stroke-width="1.1" />
<path d="M774.6,565.6 L774.6,579.6" fill="none" stroke="#3a3a3a" stroke-width="1.4" />
<path d="M778.5,564.6 L778.5,580.6" fill="none" stroke="#3a3a3a" stroke-width="1.6" />
<path d="M778.5,567.6 L783.7,567.6 L783.7,559.6" fill="none" stroke="#3a3a3a" stroke-width="1.1" />
<path d="M778.5,577.6 L783.7,577.6 L783.7,585.6" fill="none" stroke="#3a3a3a" stroke-width="1.1" />
<path d="M783.7,559.6 L796.7,559.6 L796.7,585.6 L783.7,585.6" fill="none" stroke="#3a3a3a" stroke-width="1.1" />
<path d="M793,576.6 L800.4,576.6 L796.7,569.6 Z" fill="#222"/>
<path d="M793.0,569.1 L800.4,569.1" fill="none" stroke="#3a3a3a" stroke-width="1.3" />
<text x="803" y="575.1" font-family="Liberation Sans" font-size="6.5" fill="#555" text-anchor="start" >TH3</text>
<path d="M694.5,610.8 L774.6,610.8" fill="none" stroke="#3a3a3a" stroke-width="1.1" />
<path d="M774.6,603.8 L774.6,617.8" fill="none" stroke="#3a3a3a" stroke-width="1.4" />
<path d="M778.5,602.8 L778.5,618.8" fill="none" stroke="#3a3a3a" stroke-width="1.6" />
<path d="M778.5,605.8 L783.7,605.8 L783.7,598.6" fill="none" stroke="#3a3a3a" stroke-width="1.1" />
<path d="M778.5,615.8 L783.7,615.8 L783.7,624.6" fill="none" stroke="#3a3a3a" stroke-width="1.1" />
<path d="M783.7,598.6 L796.7,598.6 L796.7,624.6 L783.7,624.6" fill="none" stroke="#3a3a3a" stroke-width="1.1" />
<path d="M793,614.8 L800.4,614.8 L796.7,607.8 Z" fill="#222"/>
<path d="M793.0,607.3 L800.4,607.3" fill="none" stroke="#3a3a3a" stroke-width="1.3" />
<text x="803" y="613.3" font-family="Liberation Sans" font-size="6.5" fill="#555" text-anchor="start" >TL3</text>
<path d="M783.7,367.5 L783.7,387.5" fill="none" stroke="#3a3a3a" stroke-width="1.1" />
<circle cx="783.7" cy="367.5" r="1.8" fill="#3a3a3a"/>
<circle cx="783.7" cy="380" r="1.8" fill="#3a3a3a"/>
<path d="M760.3,380.0 L822.5,380.0 L822.5,400.0 L833.7,400.0" fill="none" stroke="#3a3a3a" stroke-width="1.1" />
<path d="M760.3,380.0 L760.3,553.0 L783.7,553.0 L783.7,559.6" fill="none" stroke="#3a3a3a" stroke-width="1.1" />
<path d="M760.3,463.4 L783.7,463.4 L783.7,470.0" fill="none" stroke="#3a3a3a" stroke-width="1.1" />
<circle cx="760.3" cy="463.4" r="1.8" fill="#3a3a3a"/>
<path d="M783.7,412.5 L783.7,425.0" fill="none" stroke="#3a3a3a" stroke-width="1.1" />
<path d="M783.7,418.8 L833.7,418.8" fill="none" stroke="#3a3a3a" stroke-width="1.1" />
<circle cx="783.7" cy="418.8" r="1.8" fill="#3a3a3a"/>
<path d="M783.7,452.5 L783.7,457.0 L824.0,457.0 L824.0,540.6" fill="none" stroke="#3a3a3a" stroke-width="1.1" />
<circle cx="824" cy="540.6" r="1.8" fill="#3a3a3a"/>
<path d="M783.7,496.0 L783.7,509.0" fill="none" stroke="#3a3a3a" stroke-width="1.1" />
<path d="M783.7,502.4 L833.7,502.4" fill="none" stroke="#3a3a3a" stroke-width="1.1" />
<circle cx="783.7" cy="502.4" r="1.8" fill="#3a3a3a"/>
<path d="M783.7,533.6 L783.7,540.6 L833.7,540.6" fill="none" stroke="#3a3a3a" stroke-width="1.1" />
<path d="M783.7,585.6 L783.7,598.6" fill="none" stroke="#3a3a3a" stroke-width="1.1" />
<path d="M783.7,591.6 L833.7,591.6" fill="none" stroke="#3a3a3a" stroke-width="1.1" />
<circle cx="783.7" cy="591.6" r="1.8" fill="#3a3a3a"/>
<path d="M783.7,624.6 L783.7,630.3 L833.7,630.3" fill="none" stroke="#3a3a3a" stroke-width="1.1" />
<circle cx="836.3" cy="418.8" r="2.6" fill="#fff" stroke="#3a3a3a" stroke-width="1"/>
<text x="842" y="421" font-family="Liberation Sans" font-size="6.5" fill="#555" text-anchor="start" >OUT1</text>
<circle cx="836.3" cy="502.4" r="2.6" fill="#fff" stroke="#3a3a3a" stroke-width="1"/>
<text x="842" y="505" font-family="Liberation Sans" font-size="6.5" fill="#555" text-anchor="start" >OUT2</text>
<circle cx="836.3" cy="540.6" r="2.6" fill="#fff" stroke="#3a3a3a" stroke-width="1"/>
<text x="842" y="537" font-family="Liberation Sans" font-size="6.5" fill="#555" text-anchor="start" >SENSE1</text>
<circle cx="836.3" cy="591.6" r="2.6" fill="#fff" stroke="#3a3a3a" stroke-width="1"/>
<text x="842" y="594" font-family="Liberation Sans" font-size="6.5" fill="#555" text-anchor="start" >OUT3</text>
<circle cx="836.3" cy="630.3" r="2.6" fill="#fff" stroke="#3a3a3a" stroke-width="1"/>
<text x="842" y="627" font-family="Liberation Sans" font-size="6.5" fill="#555" text-anchor="start" >SENSE2</text>
<path d="M838.9,540.6 L919.0,540.6" fill="none" stroke="#3a3a3a" stroke-width="1.1" />
<path d="M917,537.8 L924,540.6 L917,543.4 Z" fill="#222"/>
<path d="M838.9,630.3 L919.0,630.3" fill="none" stroke="#3a3a3a" stroke-width="1.1" />
<path d="M917,627.5 L924,630.3 L917,633.1 Z" fill="#222"/>
<path d="M893.7,540.6 L893.7,639.0" fill="none" stroke="#3a3a3a" stroke-width="1.1" />
<circle cx="893.7" cy="540.6" r="1.8" fill="#3a3a3a"/>
<circle cx="893.7" cy="630.3" r="1.8" fill="#3a3a3a"/>
<rect x="890.5" y="639" width="6.5" height="15.5" fill="#fdfdfd" stroke="#444" stroke-width="1"/>
<path d="M893.7,654.5 L893.7,661.0" fill="none" stroke="#3a3a3a" stroke-width="1.1" />
<path d="M887.0,662.0 L901.0,662.0" fill="none" stroke="#3a3a3a" stroke-width="2.2" />
<text x="901" y="652" font-family="Liberation Sans" font-size="5.5" fill="#555" text-anchor="start" >RSENSE</text>
<text x="828" y="666" font-family="Liberation Sans" font-size="4.5" fill="#555" text-anchor="start" >D99IN1094</text>
<text x="929" y="683" font-family="Liberation Sans" font-size="5.5" fill="#555" text-anchor="start" >AM02880v1</text>
</g>
<defs><clipPath id="pcbclip"><rect x="34.5" y="252.5" width="404.5" height="279" rx="20"/></clipPath><filter id="soft" x="-5%" y="-5%" width="110%" height="110%"><feGaussianBlur stdDeviation="0.8"/></filter></defs>
<g clip-path="url(#pcbclip)"><g filter="url(#soft)">
<rect x="30.0" y="248.0" width="412.0" height="287.0" fill="#009900" />
<path d="M64.0,336.5 L162.0,336.5" fill="none" stroke="#002c00" stroke-width="4.35" stroke-linejoin="round" stroke-linecap="round"/>
<path d="M66.0,319.5 L160.0,319.5" fill="none" stroke="#002c00" stroke-width="2.61" stroke-linejoin="round" stroke-linecap="round"/>
<path d="M91.5,303.0 L91.5,336.0" fill="none" stroke="#002c00" stroke-width="2.32" stroke-linejoin="round" stroke-linecap="round"/>
<path d="M115.0,303.0 L115.0,336.0" fill="none" stroke="#002c00" stroke-width="2.32" stroke-linejoin="round" stroke-linecap="round"/>
<path d="M139.0,303.0 L139.0,336.0" fill="none" stroke="#002c00" stroke-width="2.32" stroke-linejoin="round" stroke-linecap="round"/>
<path d="M63.2,339.0 L63.2,355.0" fill="none" stroke="#002c00" stroke-width="3.19" stroke-linejoin="round" stroke-linecap="round"/>
<path d="M63.2,436.0 L63.2,450.0" fill="none" stroke="#002c00" stroke-width="3.19" stroke-linejoin="round" stroke-linecap="round"/>
<path d="M72.4,339.0 L72.4,355.0" fill="none" stroke="#002c00" stroke-width="3.19" stroke-linejoin="round" stroke-linecap="round"/>
<path d="M72.4,436.0 L72.4,450.0" fill="none" stroke="#002c00" stroke-width="3.19" stroke-linejoin="round" stroke-linecap="round"/>
<path d="M81.5,339.0 L81.5,355.0" fill="none" stroke="#002c00" stroke-width="3.19" stroke-linejoin="round" stroke-linecap="round"/>
<path d="M81.5,436.0 L81.5,450.0" fill="none" stroke="#002c00" stroke-width="3.19" stroke-linejoin="round" stroke-linecap="round"/>
<path d="M90.7,339.0 L90.7,355.0" fill="none" stroke="#002c00" stroke-width="3.19" stroke-linejoin="round" stroke-linecap="round"/>
<path d="M90.7,436.0 L90.7,450.0" fill="none" stroke="#002c00" stroke-width="3.19" stroke-linejoin="round" stroke-linecap="round"/>
<path d="M99.8,339.0 L99.8,355.0" fill="none" stroke="#002c00" stroke-width="3.19" stroke-linejoin="round" stroke-linecap="round"/>
<path d="M99.8,436.0 L99.8,450.0" fill="none" stroke="#002c00" stroke-width="3.19" stroke-linejoin="round" stroke-linecap="round"/>
<path d="M109.0,339.0 L109.0,355.0" fill="none" stroke="#002c00" stroke-width="3.19" stroke-linejoin="round" stroke-linecap="round"/>
<path d="M109.0,436.0 L109.0,450.0" fill="none" stroke="#002c00" stroke-width="3.19" stroke-linejoin="round" stroke-linecap="round"/>
<path d="M118.1,339.0 L118.1,355.0" fill="none" stroke="#002c00" stroke-width="3.19" stroke-linejoin="round" stroke-linecap="round"/>
<path d="M118.1,436.0 L118.1,450.0" fill="none" stroke="#002c00" stroke-width="3.19" stroke-linejoin="round" stroke-linecap="round"/>
<path d="M127.2,339.0 L127.2,355.0" fill="none" stroke="#002c00" stroke-width="3.19" stroke-linejoin="round" stroke-linecap="round"/>
<path d="M127.2,436.0 L127.2,450.0" fill="none" stroke="#002c00" stroke-width="3.19" stroke-linejoin="round" stroke-linecap="round"/>
<path d="M136.4,339.0 L136.4,355.0" fill="none" stroke="#002c00" stroke-width="3.19" stroke-linejoin="round" stroke-linecap="round"/>
<path d="M136.4,436.0 L136.4,450.0" fill="none" stroke="#002c00" stroke-width="3.19" stroke-linejoin="round" stroke-linecap="round"/>
<path d="M145.6,339.0 L145.6,355.0" fill="none" stroke="#002c00" stroke-width="3.19" stroke-linejoin="round" stroke-linecap="round"/>
<path d="M145.6,436.0 L145.6,450.0" fill="none" stroke="#002c00" stroke-width="3.19" stroke-linejoin="round" stroke-linecap="round"/>
<path d="M154.7,339.0 L154.7,355.0" fill="none" stroke="#002c00" stroke-width="3.19" stroke-linejoin="round" stroke-linecap="round"/>
<path d="M154.7,436.0 L154.7,450.0" fill="none" stroke="#002c00" stroke-width="3.19" stroke-linejoin="round" stroke-linecap="round"/>
<rect x="52.0" y="369.5" width="115.0" height="3.1" fill="#002c00" />
<rect x="117.0" y="357.0" width="2.0" height="14.0" fill="#002c00" />
<path d="M49.0,372.0 L49.0,440.0 L61.0,452.0" fill="none" stroke="#002c00" stroke-width="2.9" stroke-linejoin="round" stroke-linecap="round"/>
<path d="M80.0,434.0 L97.0,422.0 L131.0,422.0" fill="none" stroke="#002c00" stroke-width="2.175" stroke-linejoin="round" stroke-linecap="round"/>
<path d="M89.0,434.0 L100.0,427.0 L131.0,427.0" fill="none" stroke="#002c00" stroke-width="2.175" stroke-linejoin="round" stroke-linecap="round"/>
<path d="M44.0,318.0 L52.0,318.0 L60.0,322.0 L68.0,322.0" fill="none" stroke="#002c00" stroke-width="2.175" stroke-linejoin="round" stroke-linecap="round"/>
<path d="M200.6,336.5 L298.6,336.5" fill="none" stroke="#002c00" stroke-width="4.35" stroke-linejoin="round" stroke-linecap="round"/>
<path d="M202.6,319.5 L296.6,319.5" fill="none" stroke="#002c00" stroke-width="2.61" stroke-linejoin="round" stroke-linecap="round"/>
<path d="M228.1,303.0 L228.1,336.0" fill="none" stroke="#002c00" stroke-width="2.32" stroke-linejoin="round" stroke-linecap="round"/>
<path d="M251.6,303.0 L251.6,336.0" fill="none" stroke="#002c00" stroke-width="2.32" stroke-linejoin="round" stroke-linecap="round"/>
<path d="M275.6,303.0 L275.6,336.0" fill="none" stroke="#002c00" stroke-width="2.32" stroke-linejoin="round" stroke-linecap="round"/>
<path d="M199.8,339.0 L199.8,355.0" fill="none" stroke="#002c00" stroke-width="3.19" stroke-linejoin="round" stroke-linecap="round"/>
<path d="M199.8,436.0 L199.8,450.0" fill="none" stroke="#002c00" stroke-width="3.19" stroke-linejoin="round" stroke-linecap="round"/>
<path d="M209.0,339.0 L209.0,355.0" fill="none" stroke="#002c00" stroke-width="3.19" stroke-linejoin="round" stroke-linecap="round"/>
<path d="M209.0,436.0 L209.0,450.0" fill="none" stroke="#002c00" stroke-width="3.19" stroke-linejoin="round" stroke-linecap="round"/>
<path d="M218.1,339.0 L218.1,355.0" fill="none" stroke="#002c00" stroke-width="3.19" stroke-linejoin="round" stroke-linecap="round"/>
<path d="M218.1,436.0 L218.1,450.0" fill="none" stroke="#002c00" stroke-width="3.19" stroke-linejoin="round" stroke-linecap="round"/>
<path d="M227.2,339.0 L227.2,355.0" fill="none" stroke="#002c00" stroke-width="3.19" stroke-linejoin="round" stroke-linecap="round"/>
<path d="M227.2,436.0 L227.2,450.0" fill="none" stroke="#002c00" stroke-width="3.19" stroke-linejoin="round" stroke-linecap="round"/>
<path d="M236.4,339.0 L236.4,355.0" fill="none" stroke="#002c00" stroke-width="3.19" stroke-linejoin="round" stroke-linecap="round"/>
<path d="M236.4,436.0 L236.4,450.0" fill="none" stroke="#002c00" stroke-width="3.19" stroke-linejoin="round" stroke-linecap="round"/>
<path d="M245.6,339.0 L245.6,355.0" fill="none" stroke="#002c00" stroke-width="3.19" stroke-linejoin="round" stroke-linecap="round"/>
<path d="M245.6,436.0 L245.6,450.0" fill="none" stroke="#002c00" stroke-width="3.19" stroke-linejoin="round" stroke-linecap="round"/>
<path d="M254.7,339.0 L254.7,355.0" fill="none" stroke="#002c00" stroke-width="3.19" stroke-linejoin="round" stroke-linecap="round"/>
<path d="M254.7,436.0 L254.7,450.0" fill="none" stroke="#002c00" stroke-width="3.19" stroke-linejoin="round" stroke-linecap="round"/>
<path d="M263.9,339.0 L263.9,355.0" fill="none" stroke="#002c00" stroke-width="3.19" stroke-linejoin="round" stroke-linecap="round"/>
<path d="M263.9,436.0 L263.9,450.0" fill="none" stroke="#002c00" stroke-width="3.19" stroke-linejoin="round" stroke-linecap="round"/>
<path d="M273.0,339.0 L273.0,355.0" fill="none" stroke="#002c00" stroke-width="3.19" stroke-linejoin="round" stroke-linecap="round"/>
<path d="M273.0,436.0 L273.0,450.0" fill="none" stroke="#002c00" stroke-width="3.19" stroke-linejoin="round" stroke-linecap="round"/>
<path d="M282.2,339.0 L282.2,355.0" fill="none" stroke="#002c00" stroke-width="3.19" stroke-linejoin="round" stroke-linecap="round"/>
<path d="M282.2,436.0 L282.2,450.0" fill="none" stroke="#002c00" stroke-width="3.19" stroke-linejoin="round" stroke-linecap="round"/>
<path d="M291.3,339.0 L291.3,355.0" fill="none" stroke="#002c00" stroke-width="3.19" stroke-linejoin="round" stroke-linecap="round"/>
<path d="M291.3,436.0 L291.3,450.0" fill="none" stroke="#002c00" stroke-width="3.19" stroke-linejoin="round" stroke-linecap="round"/>
<rect x="188.6" y="369.5" width="115.0" height="3.1" fill="#002c00" />
<rect x="253.6" y="357.0" width="2.0" height="14.0" fill="#002c00" />
<path d="M185.6,372.0 L185.6,440.0 L197.6,452.0" fill="none" stroke="#002c00" stroke-width="2.9" stroke-linejoin="round" stroke-linecap="round"/>
<path d="M216.6,434.0 L233.6,422.0 L267.6,422.0" fill="none" stroke="#002c00" stroke-width="2.175" stroke-linejoin="round" stroke-linecap="round"/>
<path d="M225.6,434.0 L236.6,427.0 L267.6,427.0" fill="none" stroke="#002c00" stroke-width="2.175" stroke-linejoin="round" stroke-linecap="round"/>
<path d="M180.6,318.0 L188.6,318.0 L196.6,322.0 L204.6,322.0" fill="none" stroke="#002c00" stroke-width="2.175" stroke-linejoin="round" stroke-linecap="round"/>
<path d="M169.5,337.0 L169.5,372.0 L176.0,366.0 L182.0,358.0 L187.0,356.0" fill="none" stroke="#002c00" stroke-width="2.9" stroke-linejoin="round" stroke-linecap="round"/>
<path d="M173.0,354.0 L171.0,372.0 L171.0,455.0" fill="none" stroke="#002c00" stroke-width="3.19" stroke-linejoin="round" stroke-linecap="round"/>
<path d="M154.0,296.0 L168.0,308.0 L168.0,330.0 L176.0,335.0 L184.0,340.0" fill="none" stroke="#002c00" stroke-width="2.61" stroke-linejoin="round" stroke-linecap="round"/>
<path d="M94.0,285.0 L79.0,300.0 L68.0,308.0" fill="none" stroke="#002c00" stroke-width="2.61" stroke-linejoin="round" stroke-linecap="round"/>
<path d="M58.0,290.0 L48.0,300.0" fill="none" stroke="#002c00" stroke-width="2.32" stroke-linejoin="round" stroke-linecap="round"/>
<path d="M36.0,368.0 L50.0,356.0" fill="none" stroke="#002c00" stroke-width="2.61" stroke-linejoin="round" stroke-linecap="round"/>
<path d="M186.0,458.0 L186.0,470.0" fill="none" stroke="#002c00" stroke-width="2.32" stroke-linejoin="round" stroke-linecap="round"/>
<path d="M307.0,299.0 L307.0,470.0" fill="none" stroke="#002c00" stroke-width="3.77" stroke-linejoin="round" stroke-linecap="round"/>
<path d="M297.0,290.0 L297.0,300.0" fill="none" stroke="#002c00" stroke-width="2.32" stroke-linejoin="round" stroke-linecap="round"/>
<path d="M359.5,254.0 L359.5,290.0" fill="none" stroke="#002c00" stroke-width="2.32" stroke-linejoin="round" stroke-linecap="round"/>
<path d="M307.0,266.0 L307.0,290.0" fill="none" stroke="#002c00" stroke-width="2.03" stroke-linejoin="round" stroke-linecap="round"/>
<path d="M330.5,266.0 L330.5,290.0" fill="none" stroke="#002c00" stroke-width="2.03" stroke-linejoin="round" stroke-linecap="round"/>
<path d="M351.0,292.0 L358.0,300.0 L370.0,300.0" fill="none" stroke="#002c00" stroke-width="2.32" stroke-linejoin="round" stroke-linecap="round"/>
<path d="M394.0,320.0 L394.0,470.0 L372.0,492.0 L372.0,531.0" fill="none" stroke="#002c00" stroke-width="2.32" stroke-linejoin="round" stroke-linecap="round"/>
<path d="M398.0,330.0 L398.0,475.0 L386.0,488.0" fill="none" stroke="#002c00" stroke-width="2.175" stroke-linejoin="round" stroke-linecap="round"/>
<path d="M380.0,395.0 L398.0,380.0" fill="none" stroke="#002c00" stroke-width="2.175" stroke-linejoin="round" stroke-linecap="round"/>
<path d="M378.0,405.0 L398.0,395.0" fill="none" stroke="#002c00" stroke-width="2.175" stroke-linejoin="round" stroke-linecap="round"/>
<path d="M345.0,480.0 L358.0,470.0 L388.0,470.0 L398.0,462.0" fill="none" stroke="#002c00" stroke-width="2.03" stroke-linejoin="round" stroke-linecap="round"/>
<path d="M312.0,390.0 L312.0,470.0 L330.0,490.0 L330.0,531.0" fill="none" stroke="#002c00" stroke-width="2.32" stroke-linejoin="round" stroke-linecap="round"/>
<path d="M350.0,488.0 L352.0,531.0" fill="none" stroke="#002c00" stroke-width="2.03" stroke-linejoin="round" stroke-linecap="round"/>
<path d="M58.0,486.0 L105.0,503.0 L114.0,511.0 L114.0,531.0" fill="none" stroke="#002c00" stroke-width="2.9" stroke-linejoin="round" stroke-linecap="round"/>
<path d="M82.0,485.0 L120.0,491.0 L150.0,518.0 L150.0,531.0" fill="none" stroke="#002c00" stroke-width="2.9" stroke-linejoin="round" stroke-linecap="round"/>
<path d="M132.0,485.0 L162.0,506.0 L180.0,506.0" fill="none" stroke="#002c00" stroke-width="2.61" stroke-linejoin="round" stroke-linecap="round"/>
<path d="M38.0,494.0 L60.0,480.0 L75.0,478.0" fill="none" stroke="#002c00" stroke-width="2.32" stroke-linejoin="round" stroke-linecap="round"/>
<path d="M76.0,494.0 L82.0,500.0 L84.0,531.0" fill="none" stroke="#002c00" stroke-width="2.32" stroke-linejoin="round" stroke-linecap="round"/>
<path d="M176.0,485.0 L176.0,512.0 L188.0,531.0" fill="none" stroke="#002c00" stroke-width="2.61" stroke-linejoin="round" stroke-linecap="round"/>
<path d="M202.0,485.0 L202.0,504.5 L206.7,510.5 L206.7,531.0" fill="none" stroke="#002c00" stroke-width="2.61" stroke-linejoin="round" stroke-linecap="round"/>
<path d="M227.0,485.0 L227.0,503.0 L234.5,510.5 L234.5,531.0" fill="none" stroke="#002c00" stroke-width="2.61" stroke-linejoin="round" stroke-linecap="round"/>
<path d="M258.5,491.0 L258.5,506.0 L267.5,515.0 L267.5,531.0" fill="none" stroke="#002c00" stroke-width="2.61" stroke-linejoin="round" stroke-linecap="round"/>
<path d="M278.0,492.5 L278.0,500.0 L297.5,504.5 L305.0,531.0" fill="none" stroke="#002c00" stroke-width="2.61" stroke-linejoin="round" stroke-linecap="round"/>
<path d="M290.0,455.0 L320.0,478.0" fill="none" stroke="#002c00" stroke-width="2.175" stroke-linejoin="round" stroke-linecap="round"/>
<path d="M300.0,490.0 L316.0,505.0" fill="none" stroke="#002c00" stroke-width="2.175" stroke-linejoin="round" stroke-linecap="round"/>
<path d="M90,475 Q110,466 130,475 Q110,484 90,475 Z" fill="#002c00"/>
<rect x="109.0" y="458.0" width="2.5" height="34.0" fill="#002c00" />
<path d="M240.5,475 Q260.5,466 280.5,475 Q260.5,484 240.5,475 Z" fill="#002c00"/>
<rect x="259.5" y="458.0" width="2.5" height="34.0" fill="#002c00" />
<circle cx="56" cy="272" r="19.8" fill="#001c00"/>
<circle cx="56" cy="272" r="17.5" fill="#e2a408"/>
<circle cx="56" cy="272" r="11" fill="#fff"/>
<circle cx="417.5" cy="272.5" r="19.8" fill="#001c00"/>
<circle cx="417.5" cy="272.5" r="17.5" fill="#e2a408"/>
<circle cx="417.5" cy="272.5" r="11" fill="#fff"/>
<circle cx="55.5" cy="513.5" r="20.3" fill="#001c00"/>
<circle cx="55.5" cy="513.5" r="18" fill="#e2a408"/>
<circle cx="55.5" cy="513.5" r="11" fill="#fff"/>
<circle cx="417.5" cy="512" r="19.8" fill="#001c00"/>
<circle cx="417.5" cy="512" r="17.5" fill="#e2a408"/>
<circle cx="417.5" cy="512" r="10.5" fill="#fff"/>
<circle cx="171" cy="261" r="11.8" fill="#001c00"/>
<circle cx="171" cy="261" r="9.5" fill="#e2a408"/>
<circle cx="171" cy="261" r="6.5" fill="#fff"/>
<circle cx="207.5" cy="261" r="11.8" fill="#001c00"/>
<circle cx="207.5" cy="261" r="9.5" fill="#e2a408"/>
<circle cx="207.5" cy="261" r="6.5" fill="#fff"/>
<circle cx="98" cy="524" r="11.8" fill="#001c00"/>
<circle cx="98" cy="524" r="9.5" fill="#e2a408"/>
<circle cx="98" cy="524" r="7" fill="#fff"/>
<circle cx="134" cy="524" r="11.8" fill="#001c00"/>
<circle cx="134" cy="524" r="9.5" fill="#e2a408"/>
<circle cx="134" cy="524" r="7" fill="#fff"/>
<circle cx="170" cy="524" r="11.8" fill="#001c00"/>
<circle cx="170" cy="524" r="9.5" fill="#e2a408"/>
<circle cx="170" cy="524" r="7" fill="#fff"/>
<circle cx="215.5" cy="524" r="11.8" fill="#001c00"/>
<circle cx="215.5" cy="524" r="9.5" fill="#e2a408"/>
<circle cx="215.5" cy="524" r="7" fill="#fff"/>
<circle cx="252.5" cy="524" r="11.8" fill="#001c00"/>
<circle cx="252.5" cy="524" r="9.5" fill="#e2a408"/>
<circle cx="252.5" cy="524" r="7" fill="#fff"/>
<circle cx="288.5" cy="524" r="11.8" fill="#001c00"/>
<circle cx="288.5" cy="524" r="9.5" fill="#e2a408"/>
<circle cx="288.5" cy="524" r="7" fill="#fff"/>
<path d="M96.0,254.0 L136.0,254.0 L144.0,262.0 L144.0,289.5 L136.0,297.5 L96.0,297.5 L96.0,254.0" fill="none" stroke="#d4fdd4" stroke-width="1.8" />
<circle cx="120" cy="276.5" r="21" fill="none" stroke="#d4fdd4" stroke-width="1.8"/>
<path d="M120,255.5 A21,21 0 0 0 120,297.5 Z" fill="#fff"/>
<path d="M123.0,259.5 L123.0,290.5" fill="none" stroke="#002c00" stroke-width="3" />
<path d="M243.6,254.5 L283.6,254.5 L283.6,298.0 L243.6,298.0 L235.6,290.0 L235.6,262.5 L243.6,254.5" fill="none" stroke="#d4fdd4" stroke-width="1.8" />
<circle cx="259.6" cy="277" r="21" fill="none" stroke="#d4fdd4" stroke-width="1.8"/>
<path d="M259.6,256 A21,21 0 0 1 259.6,298 Z" fill="#fff"/>
<path d="M256.6,260.0 L256.6,291.0" fill="none" stroke="#002c00" stroke-width="3" />
<rect x="88.8" y="274.6" width="23.2" height="8.2" fill="#e2a408" rx="1.5" stroke="#045a04" stroke-width="0.8"/>
<rect x="128.7" y="274.6" width="23.1" height="8.2" fill="#e2a408" rx="1.5" stroke="#045a04" stroke-width="0.8"/>
<rect x="228.4" y="274.6" width="22.4" height="8.2" fill="#e2a408" rx="1.5" stroke="#045a04" stroke-width="0.8"/>
<rect x="268.4" y="274.6" width="23.2" height="8.2" fill="#e2a408" rx="1.5" stroke="#045a04" stroke-width="0.8"/>
<rect x="72.1" y="306.6" width="15.8" height="11.3" rx="2" fill="none" stroke="#d4fdd4" stroke-width="1.3"/>
<rect x="73.5" y="307.9" width="13.0" height="8.5" rx="1" fill="#e2a408" stroke="#004000" stroke-width="1.1"/>
<rect x="72.1" y="322.0" width="15.8" height="11.3" rx="2" fill="none" stroke="#d4fdd4" stroke-width="1.3"/>
<rect x="73.5" y="323.4" width="13.0" height="8.5" rx="1" fill="#e2a408" stroke="#004000" stroke-width="1.1"/>
<rect x="95.7" y="306.6" width="15.8" height="11.3" rx="2" fill="none" stroke="#d4fdd4" stroke-width="1.3"/>
<rect x="97.1" y="307.9" width="13.0" height="8.5" rx="1" fill="#e2a408" stroke="#004000" stroke-width="1.1"/>
<rect x="95.7" y="322.0" width="15.8" height="11.3" rx="2" fill="none" stroke="#d4fdd4" stroke-width="1.3"/>
<rect x="97.1" y="323.4" width="13.0" height="8.5" rx="1" fill="#e2a408" stroke="#004000" stroke-width="1.1"/>
<rect x="119.3" y="306.6" width="15.8" height="11.3" rx="2" fill="none" stroke="#d4fdd4" stroke-width="1.3"/>
<rect x="120.7" y="307.9" width="13.0" height="8.5" rx="1" fill="#e2a408" stroke="#004000" stroke-width="1.1"/>
<rect x="119.3" y="322.0" width="15.8" height="11.3" rx="2" fill="none" stroke="#d4fdd4" stroke-width="1.3"/>
<rect x="120.7" y="323.4" width="13.0" height="8.5" rx="1" fill="#e2a408" stroke="#004000" stroke-width="1.1"/>
<rect x="142.9" y="306.6" width="15.8" height="11.3" rx="2" fill="none" stroke="#d4fdd4" stroke-width="1.3"/>
<rect x="144.3" y="307.9" width="13.0" height="8.5" rx="1" fill="#e2a408" stroke="#004000" stroke-width="1.1"/>
<rect x="142.9" y="322.0" width="15.8" height="11.3" rx="2" fill="none" stroke="#d4fdd4" stroke-width="1.3"/>
<rect x="144.3" y="323.4" width="13.0" height="8.5" rx="1" fill="#e2a408" stroke="#004000" stroke-width="1.1"/>
<path d="M45.0,324.0 L45.0,317.0 L51.0,317.0" fill="none" stroke="#d4fdd4" stroke-width="1.7" />
<path d="M59.0,317.0 L65.0,317.0 L65.0,324.0" fill="none" stroke="#d4fdd4" stroke-width="1.7" />
<rect x="51.5" y="306.5" width="6.0" height="7.0" fill="#e2a408" stroke="#045a04" stroke-width="0.8"/>
<rect x="45.0" y="324.0" width="6.0" height="7.0" fill="#e2a408" stroke="#045a04" stroke-width="0.8"/>
<rect x="58.5" y="324.0" width="6.0" height="7.0" fill="#e2a408" stroke="#045a04" stroke-width="0.8"/>
<rect x="65.1" y="339.5" width="5.4" height="15.5" fill="#e2a408" rx="2.2"/>
<rect x="65.1" y="435.5" width="5.4" height="15.0" fill="#e2a408" rx="2.2"/>
<rect x="74.2" y="339.5" width="5.4" height="15.5" fill="#e2a408" rx="2.2"/>
<rect x="74.2" y="435.5" width="5.4" height="15.0" fill="#e2a408" rx="2.2"/>
<rect x="83.4" y="339.5" width="5.4" height="15.5" fill="#e2a408" rx="2.2"/>
<rect x="83.4" y="435.5" width="5.4" height="15.0" fill="#e2a408" rx="2.2"/>
<rect x="92.5" y="339.5" width="5.4" height="15.5" fill="#e2a408" rx="2.2"/>
<rect x="92.5" y="435.5" width="5.4" height="15.0" fill="#e2a408" rx="2.2"/>
<rect x="101.7" y="339.5" width="5.4" height="15.5" fill="#e2a408" rx="2.2"/>
<rect x="101.7" y="435.5" width="5.4" height="15.0" fill="#e2a408" rx="2.2"/>
<rect x="110.8" y="339.5" width="5.4" height="15.5" fill="#e2a408" rx="2.2"/>
<rect x="110.8" y="435.5" width="5.4" height="15.0" fill="#e2a408" rx="2.2"/>
<rect x="120.0" y="339.5" width="5.4" height="15.5" fill="#e2a408" rx="2.2"/>
<rect x="120.0" y="435.5" width="5.4" height="15.0" fill="#e2a408" rx="2.2"/>
<rect x="129.2" y="339.5" width="5.4" height="15.5" fill="#e2a408" rx="2.2"/>
<rect x="129.2" y="435.5" width="5.4" height="15.0" fill="#e2a408" rx="2.2"/>
<rect x="138.3" y="339.5" width="5.4" height="15.5" fill="#e2a408" rx="2.2"/>
<rect x="138.3" y="435.5" width="5.4" height="15.0" fill="#e2a408" rx="2.2"/>
<rect x="147.5" y="339.5" width="5.4" height="15.5" fill="#e2a408" rx="2.2"/>
<rect x="147.5" y="435.5" width="5.4" height="15.0" fill="#e2a408" rx="2.2"/>
<path d="M51.0,371.0 L51.0,356.0 L64.0,356.0" fill="none" stroke="#d4fdd4" stroke-width="2" />
<path d="M159.3,356.0 L167.3,356.0 L167.3,371.0" fill="none" stroke="#d4fdd4" stroke-width="2" />
<path d="M51.0,418.0 L51.0,434.5 L64.0,434.5" fill="none" stroke="#d4fdd4" stroke-width="2" />
<path d="M159.3,434.5 L167.3,434.5 L167.3,418.0" fill="none" stroke="#d4fdd4" stroke-width="2" />
<g fill="#d4fdd4"><circle cx="72.4" cy="356" r="1"/><circle cx="72.4" cy="434.5" r="1"/><circle cx="81.6" cy="356" r="1"/><circle cx="81.6" cy="434.5" r="1"/><circle cx="90.7" cy="356" r="1"/><circle cx="90.7" cy="434.5" r="1"/><circle cx="99.9" cy="356" r="1"/><circle cx="99.9" cy="434.5" r="1"/><circle cx="109.0" cy="356" r="1"/><circle cx="109.0" cy="434.5" r="1"/><circle cx="118.2" cy="356" r="1"/><circle cx="118.2" cy="434.5" r="1"/><circle cx="127.3" cy="356" r="1"/><circle cx="127.3" cy="434.5" r="1"/><circle cx="136.4" cy="356" r="1"/><circle cx="136.4" cy="434.5" r="1"/><circle cx="145.6" cy="356" r="1"/><circle cx="145.6" cy="434.5" r="1"/></g>
<rect x="51.0" y="372.6" width="116.3" height="44.1" fill="#e2a408" />
<g fill="#f8de7a"><circle cx="58.5" cy="382.5" r="1.3"/><circle cx="65.8" cy="382.5" r="1.3"/><circle cx="73.1" cy="382.5" r="1.3"/><circle cx="80.4" cy="382.5" r="1.3"/><circle cx="87.7" cy="382.5" r="1.3"/><circle cx="95.0" cy="382.5" r="1.3"/><circle cx="102.3" cy="382.5" r="1.3"/><circle cx="109.6" cy="382.5" r="1.3"/><circle cx="152.7" cy="382.5" r="1.3"/><circle cx="160.0" cy="382.5" r="1.3"/><circle cx="58.5" cy="388.0" r="1.3"/><circle cx="65.8" cy="388.0" r="1.3"/><circle cx="73.1" cy="388.0" r="1.3"/><circle cx="80.4" cy="388.0" r="1.3"/><circle cx="87.7" cy="388.0" r="1.3"/><circle cx="95.0" cy="388.0" r="1.3"/><circle cx="102.3" cy="388.0" r="1.3"/><circle cx="109.6" cy="388.0" r="1.3"/><circle cx="152.7" cy="388.0" r="1.3"/><circle cx="160.0" cy="388.0" r="1.3"/><circle cx="58.5" cy="393.5" r="1.3"/><circle cx="65.8" cy="393.5" r="1.3"/><circle cx="73.1" cy="393.5" r="1.3"/><circle cx="80.4" cy="393.5" r="1.3"/><circle cx="87.7" cy="393.5" r="1.3"/><circle cx="95.0" cy="393.5" r="1.3"/><circle cx="102.3" cy="393.5" r="1.3"/><circle cx="109.6" cy="393.5" r="1.3"/><circle cx="152.7" cy="393.5" r="1.3"/><circle cx="160.0" cy="393.5" r="1.3"/><circle cx="58.5" cy="399.0" r="1.3"/><circle cx="65.8" cy="399.0" r="1.3"/><circle cx="73.1" cy="399.0" r="1.3"/><circle cx="80.4" cy="399.0" r="1.3"/><circle cx="87.7" cy="399.0" r="1.3"/><circle cx="95.0" cy="399.0" r="1.3"/><circle cx="102.3" cy="399.0" r="1.3"/><circle cx="109.6" cy="399.0" r="1.3"/><circle cx="152.7" cy="399.0" r="1.3"/><circle cx="160.0" cy="399.0" r="1.3"/><circle cx="58.5" cy="404.5" r="1.3"/><circle cx="65.8" cy="404.5" r="1.3"/><circle cx="73.1" cy="404.5" r="1.3"/><circle cx="80.4" cy="404.5" r="1.3"/><circle cx="87.7" cy="404.5" r="1.3"/><circle cx="95.0" cy="404.5" r="1.3"/><circle cx="102.3" cy="404.5" r="1.3"/><circle cx="109.6" cy="404.5" r="1.3"/><circle cx="152.7" cy="404.5" r="1.3"/><circle cx="160.0" cy="404.5" r="1.3"/><circle cx="58.5" cy="410.0" r="1.3"/><circle cx="65.8" cy="410.0" r="1.3"/><circle cx="73.1" cy="410.0" r="1.3"/><circle cx="80.4" cy="410.0" r="1.3"/><circle cx="87.7" cy="410.0" r="1.3"/><circle cx="95.0" cy="410.0" r="1.3"/><circle cx="102.3" cy="410.0" r="1.3"/><circle cx="109.6" cy="410.0" r="1.3"/><circle cx="152.7" cy="410.0" r="1.3"/><circle cx="160.0" cy="410.0" r="1.3"/></g>
<circle cx="59" cy="443.5" r="3" fill="none" stroke="#d4fdd4" stroke-width="1.7"/>
<circle cx="120" cy="373" r="0"/>
<rect x="208.7" y="306.6" width="15.8" height="11.3" rx="2" fill="none" stroke="#d4fdd4" stroke-width="1.3"/>
<rect x="210.1" y="307.9" width="13.0" height="8.5" rx="1" fill="#e2a408" stroke="#004000" stroke-width="1.1"/>
<rect x="208.7" y="322.0" width="15.8" height="11.3" rx="2" fill="none" stroke="#d4fdd4" stroke-width="1.3"/>
<rect x="210.1" y="323.4" width="13.0" height="8.5" rx="1" fill="#e2a408" stroke="#004000" stroke-width="1.1"/>
<rect x="232.3" y="306.6" width="15.8" height="11.3" rx="2" fill="none" stroke="#d4fdd4" stroke-width="1.3"/>
<rect x="233.7" y="307.9" width="13.0" height="8.5" rx="1" fill="#e2a408" stroke="#004000" stroke-width="1.1"/>
<rect x="232.3" y="322.0" width="15.8" height="11.3" rx="2" fill="none" stroke="#d4fdd4" stroke-width="1.3"/>
<rect x="233.7" y="323.4" width="13.0" height="8.5" rx="1" fill="#e2a408" stroke="#004000" stroke-width="1.1"/>
<rect x="255.9" y="306.6" width="15.8" height="11.3" rx="2" fill="none" stroke="#d4fdd4" stroke-width="1.3"/>
<rect x="257.3" y="307.9" width="13.0" height="8.5" rx="1" fill="#e2a408" stroke="#004000" stroke-width="1.1"/>
<rect x="255.9" y="322.0" width="15.8" height="11.3" rx="2" fill="none" stroke="#d4fdd4" stroke-width="1.3"/>
<rect x="257.3" y="323.4" width="13.0" height="8.5" rx="1" fill="#e2a408" stroke="#004000" stroke-width="1.1"/>
<rect x="279.5" y="306.6" width="15.8" height="11.3" rx="2" fill="none" stroke="#d4fdd4" stroke-width="1.3"/>
<rect x="280.9" y="307.9" width="13.0" height="8.5" rx="1" fill="#e2a408" stroke="#004000" stroke-width="1.1"/>
<rect x="279.5" y="322.0" width="15.8" height="11.3" rx="2" fill="none" stroke="#d4fdd4" stroke-width="1.3"/>
<rect x="280.9" y="323.4" width="13.0" height="8.5" rx="1" fill="#e2a408" stroke="#004000" stroke-width="1.1"/>
<path d="M181.6,324.0 L181.6,317.0 L187.6,317.0" fill="none" stroke="#d4fdd4" stroke-width="1.7" />
<path d="M195.6,317.0 L201.6,317.0 L201.6,324.0" fill="none" stroke="#d4fdd4" stroke-width="1.7" />
<rect x="188.1" y="306.5" width="6.0" height="7.0" fill="#e2a408" stroke="#045a04" stroke-width="0.8"/>
<rect x="181.6" y="324.0" width="6.0" height="7.0" fill="#e2a408" stroke="#045a04" stroke-width="0.8"/>
<rect x="195.1" y="324.0" width="6.0" height="7.0" fill="#e2a408" stroke="#045a04" stroke-width="0.8"/>
<rect x="201.7" y="339.5" width="5.4" height="15.5" fill="#e2a408" rx="2.2"/>
<rect x="201.7" y="435.5" width="5.4" height="15.0" fill="#e2a408" rx="2.2"/>
<rect x="210.8" y="339.5" width="5.4" height="15.5" fill="#e2a408" rx="2.2"/>
<rect x="210.8" y="435.5" width="5.4" height="15.0" fill="#e2a408" rx="2.2"/>
<rect x="220.0" y="339.5" width="5.4" height="15.5" fill="#e2a408" rx="2.2"/>
<rect x="220.0" y="435.5" width="5.4" height="15.0" fill="#e2a408" rx="2.2"/>
<rect x="229.1" y="339.5" width="5.4" height="15.5" fill="#e2a408" rx="2.2"/>
<rect x="229.1" y="435.5" width="5.4" height="15.0" fill="#e2a408" rx="2.2"/>
<rect x="238.3" y="339.5" width="5.4" height="15.5" fill="#e2a408" rx="2.2"/>
<rect x="238.3" y="435.5" width="5.4" height="15.0" fill="#e2a408" rx="2.2"/>
<rect x="247.4" y="339.5" width="5.4" height="15.5" fill="#e2a408" rx="2.2"/>
<rect x="247.4" y="435.5" width="5.4" height="15.0" fill="#e2a408" rx="2.2"/>
<rect x="256.6" y="339.5" width="5.4" height="15.5" fill="#e2a408" rx="2.2"/>
<rect x="256.6" y="435.5" width="5.4" height="15.0" fill="#e2a408" rx="2.2"/>
<rect x="265.8" y="339.5" width="5.4" height="15.5" fill="#e2a408" rx="2.2"/>
<rect x="265.8" y="435.5" width="5.4" height="15.0" fill="#e2a408" rx="2.2"/>
<rect x="274.9" y="339.5" width="5.4" height="15.5" fill="#e2a408" rx="2.2"/>
<rect x="274.9" y="435.5" width="5.4" height="15.0" fill="#e2a408" rx="2.2"/>
<rect x="284.1" y="339.5" width="5.4" height="15.5" fill="#e2a408" rx="2.2"/>
<rect x="284.1" y="435.5" width="5.4" height="15.0" fill="#e2a408" rx="2.2"/>
<path d="M187.6,371.0 L187.6,356.0 L200.6,356.0" fill="none" stroke="#d4fdd4" stroke-width="2" />
<path d="M295.9,356.0 L303.9,356.0 L303.9,371.0" fill="none" stroke="#d4fdd4" stroke-width="2" />
<path d="M187.6,418.0 L187.6,434.5 L200.6,434.5" fill="none" stroke="#d4fdd4" stroke-width="2" />
<path d="M295.9,434.5 L303.9,434.5 L303.9,418.0" fill="none" stroke="#d4fdd4" stroke-width="2" />
<g fill="#d4fdd4"><circle cx="209.0" cy="356" r="1"/><circle cx="209.0" cy="434.5" r="1"/><circle cx="218.2" cy="356" r="1"/><circle cx="218.2" cy="434.5" r="1"/><circle cx="227.3" cy="356" r="1"/><circle cx="227.3" cy="434.5" r="1"/><circle cx="236.4" cy="356" r="1"/><circle cx="236.4" cy="434.5" r="1"/><circle cx="245.6" cy="356" r="1"/><circle cx="245.6" cy="434.5" r="1"/><circle cx="254.8" cy="356" r="1"/><circle cx="254.8" cy="434.5" r="1"/><circle cx="263.9" cy="356" r="1"/><circle cx="263.9" cy="434.5" r="1"/><circle cx="273.1" cy="356" r="1"/><circle cx="273.1" cy="434.5" r="1"/><circle cx="282.2" cy="356" r="1"/><circle cx="282.2" cy="434.5" r="1"/></g>
<rect x="187.6" y="372.6" width="116.3" height="44.1" fill="#e2a408" />
<g fill="#f8de7a"><circle cx="195.1" cy="382.5" r="1.3"/><circle cx="202.4" cy="382.5" r="1.3"/><circle cx="209.7" cy="382.5" r="1.3"/><circle cx="217.0" cy="382.5" r="1.3"/><circle cx="224.3" cy="382.5" r="1.3"/><circle cx="231.6" cy="382.5" r="1.3"/><circle cx="238.9" cy="382.5" r="1.3"/><circle cx="246.2" cy="382.5" r="1.3"/><circle cx="253.5" cy="382.5" r="1.3"/><circle cx="289.3" cy="382.5" r="1.3"/><circle cx="296.6" cy="382.5" r="1.3"/><circle cx="195.1" cy="388.0" r="1.3"/><circle cx="202.4" cy="388.0" r="1.3"/><circle cx="209.7" cy="388.0" r="1.3"/><circle cx="217.0" cy="388.0" r="1.3"/><circle cx="224.3" cy="388.0" r="1.3"/><circle cx="231.6" cy="388.0" r="1.3"/><circle cx="238.9" cy="388.0" r="1.3"/><circle cx="246.2" cy="388.0" r="1.3"/><circle cx="253.5" cy="388.0" r="1.3"/><circle cx="289.3" cy="388.0" r="1.3"/><circle cx="296.6" cy="388.0" r="1.3"/><circle cx="195.1" cy="393.5" r="1.3"/><circle cx="202.4" cy="393.5" r="1.3"/><circle cx="209.7" cy="393.5" r="1.3"/><circle cx="217.0" cy="393.5" r="1.3"/><circle cx="224.3" cy="393.5" r="1.3"/><circle cx="231.6" cy="393.5" r="1.3"/><circle cx="238.9" cy="393.5" r="1.3"/><circle cx="246.2" cy="393.5" r="1.3"/><circle cx="253.5" cy="393.5" r="1.3"/><circle cx="289.3" cy="393.5" r="1.3"/><circle cx="296.6" cy="393.5" r="1.3"/><circle cx="195.1" cy="399.0" r="1.3"/><circle cx="202.4" cy="399.0" r="1.3"/><circle cx="209.7" cy="399.0" r="1.3"/><circle cx="217.0" cy="399.0" r="1.3"/><circle cx="224.3" cy="399.0" r="1.3"/><circle cx="231.6" cy="399.0" r="1.3"/><circle cx="238.9" cy="399.0" r="1.3"/><circle cx="246.2" cy="399.0" r="1.3"/><circle cx="253.5" cy="399.0" r="1.3"/><circle cx="289.3" cy="399.0" r="1.3"/><circle cx="296.6" cy="399.0" r="1.3"/><circle cx="195.1" cy="404.5" r="1.3"/><circle cx="202.4" cy="404.5" r="1.3"/><circle cx="209.7" cy="404.5" r="1.3"/><circle cx="217.0" cy="404.5" r="1.3"/><circle cx="224.3" cy="404.5" r="1.3"/><circle cx="231.6" cy="404.5" r="1.3"/><circle cx="238.9" cy="404.5" r="1.3"/><circle cx="246.2" cy="404.5" r="1.3"/><circle cx="253.5" cy="404.5" r="1.3"/><circle cx="289.3" cy="404.5" r="1.3"/><circle cx="296.6" cy="404.5" r="1.3"/><circle cx="195.1" cy="410.0" r="1.3"/><circle cx="202.4" cy="410.0" r="1.3"/><circle cx="209.7" cy="410.0" r="1.3"/><circle cx="217.0" cy="410.0" r="1.3"/><circle cx="224.3" cy="410.0" r="1.3"/><circle cx="231.6" cy="410.0" r="1.3"/><circle cx="238.9" cy="410.0" r="1.3"/><circle cx="246.2" cy="410.0" r="1.3"/><circle cx="253.5" cy="410.0" r="1.3"/><circle cx="289.3" cy="410.0" r="1.3"/><circle cx="296.6" cy="410.0" r="1.3"/></g>
<circle cx="195.6" cy="443.5" r="3" fill="none" stroke="#d4fdd4" stroke-width="1.7"/>
<circle cx="256.6" cy="373" r="0"/>
<rect x="296.1" y="265.5" width="9.8" height="9.8" rx="2" fill="none" stroke="#d4fdd4" stroke-width="1.3"/>
<rect x="297.5" y="266.9" width="7.0" height="7.0" rx="1.5" fill="#e2a408" stroke="#004000" stroke-width="1.1"/>
<rect x="296.1" y="279.3" width="9.8" height="9.8" rx="2" fill="none" stroke="#d4fdd4" stroke-width="1.3"/>
<rect x="297.5" y="280.7" width="7.0" height="7.0" rx="1.5" fill="#e2a408" stroke="#004000" stroke-width="1.1"/>
<rect x="307.5" y="265.5" width="9.8" height="9.8" rx="2" fill="none" stroke="#d4fdd4" stroke-width="1.3"/>
<rect x="308.9" y="266.9" width="7.0" height="7.0" rx="1.5" fill="#e2a408" stroke="#004000" stroke-width="1.1"/>
<rect x="307.5" y="279.3" width="9.8" height="9.8" rx="2" fill="none" stroke="#d4fdd4" stroke-width="1.3"/>
<rect x="308.9" y="280.7" width="7.0" height="7.0" rx="1.5" fill="#e2a408" stroke="#004000" stroke-width="1.1"/>
<rect x="320.1" y="265.5" width="9.8" height="9.8" rx="2" fill="none" stroke="#d4fdd4" stroke-width="1.3"/>
<rect x="321.5" y="266.9" width="7.0" height="7.0" rx="1.5" fill="#e2a408" stroke="#004000" stroke-width="1.1"/>
<rect x="320.1" y="279.3" width="9.8" height="9.8" rx="2" fill="none" stroke="#d4fdd4" stroke-width="1.3"/>
<rect x="321.5" y="280.7" width="7.0" height="7.0" rx="1.5" fill="#e2a408" stroke="#004000" stroke-width="1.1"/>
<rect x="331.5" y="265.5" width="9.8" height="9.8" rx="2" fill="none" stroke="#d4fdd4" stroke-width="1.3"/>
<rect x="332.9" y="266.9" width="7.0" height="7.0" rx="1.5" fill="#e2a408" stroke="#004000" stroke-width="1.1"/>
<rect x="331.5" y="279.3" width="9.8" height="9.8" rx="2" fill="none" stroke="#d4fdd4" stroke-width="1.3"/>
<rect x="332.9" y="280.7" width="7.0" height="7.0" rx="1.5" fill="#e2a408" stroke="#004000" stroke-width="1.1"/>
<rect x="346.0" y="263.7" width="13.3" height="12.3" rx="2" fill="none" stroke="#d4fdd4" stroke-width="1.3"/>
<rect x="347.4" y="265.1" width="10.5" height="9.5" rx="1" fill="#e2a408" stroke="#004000" stroke-width="1.1"/>
<rect x="346.0" y="278.1" width="13.3" height="12.3" rx="2" fill="none" stroke="#d4fdd4" stroke-width="1.3"/>
<rect x="347.4" y="279.4" width="10.5" height="9.5" rx="1" fill="#e2a408" stroke="#004000" stroke-width="1.1"/>
<rect x="361.6" y="263.7" width="13.3" height="12.3" rx="2" fill="none" stroke="#d4fdd4" stroke-width="1.3"/>
<rect x="362.9" y="265.1" width="10.5" height="9.5" rx="1" fill="#e2a408" stroke="#004000" stroke-width="1.1"/>
<rect x="361.6" y="278.1" width="13.3" height="12.3" rx="2" fill="none" stroke="#d4fdd4" stroke-width="1.3"/>
<rect x="362.9" y="279.4" width="10.5" height="9.5" rx="1" fill="#e2a408" stroke="#004000" stroke-width="1.1"/>
<rect x="314.8" y="293.2" width="4.8" height="14.4" fill="#e2a408" rx="2.2"/>
<rect x="314.8" y="333.4" width="4.8" height="13.8" fill="#e2a408" rx="2.2"/>
<rect x="323.8" y="293.2" width="4.8" height="14.4" fill="#e2a408" rx="2.2"/>
<rect x="323.8" y="333.4" width="4.8" height="13.8" fill="#e2a408" rx="2.2"/>
<rect x="332.8" y="293.2" width="4.8" height="14.4" fill="#e2a408" rx="2.2"/>
<rect x="332.8" y="333.4" width="4.8" height="13.8" fill="#e2a408" rx="2.2"/>
<rect x="342.4" y="293.2" width="4.8" height="14.4" fill="#e2a408" rx="2.2"/>
<rect x="342.4" y="333.4" width="4.8" height="13.8" fill="#e2a408" rx="2.2"/>
<rect x="312.4" y="308.8" width="37.2" height="22.8" fill="none" stroke="#d4fdd4" stroke-width="1.8"/>
<rect x="323.8" y="313.0" width="15.0" height="15.0" fill="#e2a408" />
<g fill="#f6d880"><rect x="324.3" y="313.5" width="2.6" height="2.6"/><rect x="324.3" y="323.1" width="2.6" height="2.6"/><rect x="329.1" y="318.3" width="2.6" height="2.6"/><rect x="333.9" y="313.5" width="2.6" height="2.6"/><rect x="333.9" y="323.1" width="2.6" height="2.6"/></g>
<circle cx="350" cy="300" r="1.6" fill="#fff"/><circle cx="345" cy="315" r="1.6" fill="#fff"/>
<g fill="none" stroke="#e8ffe8" stroke-width="1.2"><circle cx="387.5" cy="432.5" r="2"/><circle cx="386.5" cy="444.5" r="2"/><circle cx="385.5" cy="456.5" r="2"/></g>
<rect x="368.8" y="305.2" width="21" height="40.8" rx="3" fill="none" stroke="#d4fdd4" stroke-width="1.7"/>
<rect x="373.0" y="301.6" width="13.8" height="15.0" fill="#e2a408" rx="1" stroke="#045a04" stroke-width="0.9"/>
<rect x="373.0" y="332.8" width="13.8" height="14.4" fill="#e2a408" rx="1" stroke="#045a04" stroke-width="0.9"/>
<rect x="354.4" y="325.5" width="10.8" height="9.8" rx="2" fill="none" stroke="#d4fdd4" stroke-width="1.3"/>
<rect x="355.8" y="326.9" width="8.0" height="7.0" rx="1" fill="#e2a408" stroke="#004000" stroke-width="1.1"/>
<rect x="354.4" y="336.3" width="10.8" height="9.8" rx="2" fill="none" stroke="#d4fdd4" stroke-width="1.3"/>
<rect x="355.8" y="337.7" width="8.0" height="7.0" rx="1" fill="#e2a408" stroke="#004000" stroke-width="1.1"/>
<rect x="351" y="353.2" width="39" height="34.5" fill="none" stroke="#d4fdd4" stroke-width="1.7"/>
<rect x="352.6" y="355.0" width="10.2" height="32.0" fill="#e2a408" />
<rect x="362.8" y="355.0" width="15.6" height="32.0" fill="#003a00" />
<rect x="378.4" y="355.0" width="10.2" height="32.0" fill="#e2a408" />
<rect x="309.8" y="351.9" width="11.3" height="9.8" rx="2" fill="none" stroke="#d4fdd4" stroke-width="1.3"/>
<rect x="311.1" y="353.3" width="8.5" height="7.0" rx="1" fill="#e2a408" stroke="#004000" stroke-width="1.1"/>
<rect x="309.8" y="364.1" width="11.3" height="9.8" rx="2" fill="none" stroke="#d4fdd4" stroke-width="1.3"/>
<rect x="311.1" y="365.5" width="8.5" height="7.0" rx="1" fill="#e2a408" stroke="#004000" stroke-width="1.1"/>
<rect x="309.8" y="376.1" width="11.3" height="9.8" rx="2" fill="none" stroke="#d4fdd4" stroke-width="1.3"/>
<rect x="311.1" y="377.5" width="8.5" height="7.0" rx="1" fill="#e2a408" stroke="#004000" stroke-width="1.1"/>
<rect x="309.8" y="386.1" width="11.3" height="9.8" rx="2" fill="none" stroke="#d4fdd4" stroke-width="1.3"/>
<rect x="311.1" y="387.5" width="8.5" height="7.0" rx="1" fill="#e2a408" stroke="#004000" stroke-width="1.1"/>
<rect x="309.8" y="401.1" width="11.3" height="9.8" rx="2" fill="none" stroke="#d4fdd4" stroke-width="1.3"/>
<rect x="311.1" y="402.5" width="8.5" height="7.0" rx="1" fill="#e2a408" stroke="#004000" stroke-width="1.1"/>
<rect x="309.8" y="415.1" width="11.3" height="9.8" rx="2" fill="none" stroke="#d4fdd4" stroke-width="1.3"/>
<rect x="311.1" y="416.5" width="8.5" height="7.0" rx="1" fill="#e2a408" stroke="#004000" stroke-width="1.1"/>
<rect x="325.5" y="352.5" width="9.8" height="9.8" rx="2" fill="none" stroke="#d4fdd4" stroke-width="1.3"/>
<rect x="326.9" y="353.9" width="7.0" height="7.0" rx="1" fill="#e2a408" stroke="#004000" stroke-width="1.1"/>
<rect x="325.5" y="364.6" width="9.8" height="9.8" rx="2" fill="none" stroke="#d4fdd4" stroke-width="1.3"/>
<rect x="326.9" y="366.0" width="7.0" height="7.0" rx="1" fill="#e2a408" stroke="#004000" stroke-width="1.1"/>
<rect x="325.5" y="376.6" width="9.8" height="9.8" rx="2" fill="none" stroke="#d4fdd4" stroke-width="1.3"/>
<rect x="326.9" y="378.0" width="7.0" height="7.0" rx="1" fill="#e2a408" stroke="#004000" stroke-width="1.1"/>
<rect x="336.9" y="352.5" width="9.8" height="9.8" rx="2" fill="none" stroke="#d4fdd4" stroke-width="1.3"/>
<rect x="338.3" y="353.9" width="7.0" height="7.0" rx="1" fill="#e2a408" stroke="#004000" stroke-width="1.1"/>
<rect x="336.9" y="364.6" width="9.8" height="9.8" rx="2" fill="none" stroke="#d4fdd4" stroke-width="1.3"/>
<rect x="338.3" y="366.0" width="7.0" height="7.0" rx="1" fill="#e2a408" stroke="#004000" stroke-width="1.1"/>
<rect x="336.9" y="376.6" width="9.8" height="9.8" rx="2" fill="none" stroke="#d4fdd4" stroke-width="1.3"/>
<rect x="338.3" y="378.0" width="7.0" height="7.0" rx="1" fill="#e2a408" stroke="#004000" stroke-width="1.1"/>
<rect x="325.9" y="393.6" width="9.3" height="10.3" rx="2" fill="none" stroke="#d4fdd4" stroke-width="1.3"/>
<rect x="327.2" y="394.9" width="6.5" height="7.5" rx="1" fill="#e2a408" stroke="#004000" stroke-width="1.1"/>
<rect x="325.9" y="406.4" width="9.3" height="10.3" rx="2" fill="none" stroke="#d4fdd4" stroke-width="1.3"/>
<rect x="327.2" y="407.8" width="6.5" height="7.5" rx="1" fill="#e2a408" stroke="#004000" stroke-width="1.1"/>
<rect x="337.1" y="393.6" width="9.3" height="10.3" rx="2" fill="none" stroke="#d4fdd4" stroke-width="1.3"/>
<rect x="338.4" y="394.9" width="6.5" height="7.5" rx="1" fill="#e2a408" stroke="#004000" stroke-width="1.1"/>
<rect x="337.1" y="406.4" width="9.3" height="10.3" rx="2" fill="none" stroke="#d4fdd4" stroke-width="1.3"/>
<rect x="338.4" y="407.8" width="6.5" height="7.5" rx="1" fill="#e2a408" stroke="#004000" stroke-width="1.1"/>
<rect x="350.6" y="393.6" width="9.3" height="10.3" rx="2" fill="none" stroke="#d4fdd4" stroke-width="1.3"/>
<rect x="351.9" y="394.9" width="6.5" height="7.5" rx="1" fill="#e2a408" stroke="#004000" stroke-width="1.1"/>
<rect x="350.6" y="406.4" width="9.3" height="10.3" rx="2" fill="none" stroke="#d4fdd4" stroke-width="1.3"/>
<rect x="351.9" y="407.8" width="6.5" height="7.5" rx="1" fill="#e2a408" stroke="#004000" stroke-width="1.1"/>
<rect x="361.9" y="393.6" width="9.3" height="10.3" rx="2" fill="none" stroke="#d4fdd4" stroke-width="1.3"/>
<rect x="363.2" y="394.9" width="6.5" height="7.5" rx="1" fill="#e2a408" stroke="#004000" stroke-width="1.1"/>
<rect x="361.9" y="406.4" width="9.3" height="10.3" rx="2" fill="none" stroke="#d4fdd4" stroke-width="1.3"/>
<rect x="363.2" y="407.8" width="6.5" height="7.5" rx="1" fill="#e2a408" stroke="#004000" stroke-width="1.1"/>
<rect x="335" y="419.7" width="27" height="51" fill="none" stroke="#d4fdd4" stroke-width="1.7"/>
<path d="M337,421 L360,421 L360,436 L352,440 L352,468 L347,468 L347,440 L337,436 Z" fill="none" stroke="#002c00" stroke-width="1.2"/>
<rect x="317.7" y="432.5" width="15.8" height="26.2" fill="#e2a408" stroke="#045a04" stroke-width="0.9"/>
<rect x="363.5" y="425.7" width="15.7" height="6.8" fill="#e2a408" />
<rect x="363.5" y="441.5" width="15.7" height="7.5" fill="#e2a408" />
<rect x="363.5" y="458.7" width="15.7" height="7.5" fill="#e2a408" />
<rect x="333.8" y="474.8" width="9.8" height="9.8" rx="2" fill="none" stroke="#d4fdd4" stroke-width="1.3"/>
<rect x="335.2" y="476.2" width="7.0" height="7.0" rx="1" fill="#e2a408" stroke="#004000" stroke-width="1.1"/>
<rect x="346.6" y="474.8" width="9.8" height="9.8" rx="2" fill="none" stroke="#d4fdd4" stroke-width="1.3"/>
<rect x="348.0" y="476.2" width="7.0" height="7.0" rx="1" fill="#e2a408" stroke="#004000" stroke-width="1.1"/>
<rect x="359.3" y="474.8" width="9.8" height="9.8" rx="2" fill="none" stroke="#d4fdd4" stroke-width="1.3"/>
<rect x="360.7" y="476.2" width="7.0" height="7.0" rx="1" fill="#e2a408" stroke="#004000" stroke-width="1.1"/>
<rect x="372.1" y="474.8" width="9.8" height="9.8" rx="2" fill="none" stroke="#d4fdd4" stroke-width="1.3"/>
<rect x="373.5" y="476.2" width="7.0" height="7.0" rx="1" fill="#e2a408" stroke="#004000" stroke-width="1.1"/>
<rect x="313.7" y="494" width="29" height="24" fill="none" stroke="#d4fdd4" stroke-width="1.1"/>
<rect x="315.7" y="495.5" width="2.6" height="7.5" fill="#e2a408" />
<rect x="315.7" y="509.0" width="2.6" height="7.5" fill="#e2a408" />
<rect x="320.0" y="495.5" width="2.6" height="7.5" fill="#e2a408" />
<rect x="320.0" y="509.0" width="2.6" height="7.5" fill="#e2a408" />
<rect x="324.3" y="495.5" width="2.6" height="7.5" fill="#e2a408" />
<rect x="324.3" y="509.0" width="2.6" height="7.5" fill="#e2a408" />
<rect x="328.6" y="495.5" width="2.6" height="7.5" fill="#e2a408" />
<rect x="328.6" y="509.0" width="2.6" height="7.5" fill="#e2a408" />
<rect x="332.9" y="495.5" width="2.6" height="7.5" fill="#e2a408" />
<rect x="332.9" y="509.0" width="2.6" height="7.5" fill="#e2a408" />
<rect x="337.2" y="495.5" width="2.6" height="7.5" fill="#e2a408" />
<rect x="337.2" y="509.0" width="2.6" height="7.5" fill="#e2a408" />
<rect x="356.5" y="494" width="29" height="24" fill="none" stroke="#d4fdd4" stroke-width="1.1"/>
<rect x="358.5" y="495.5" width="2.6" height="7.5" fill="#e2a408" />
<rect x="358.5" y="509.0" width="2.6" height="7.5" fill="#e2a408" />
<rect x="362.8" y="495.5" width="2.6" height="7.5" fill="#e2a408" />
<rect x="362.8" y="509.0" width="2.6" height="7.5" fill="#e2a408" />
<rect x="367.1" y="495.5" width="2.6" height="7.5" fill="#e2a408" />
<rect x="367.1" y="509.0" width="2.6" height="7.5" fill="#e2a408" />
<rect x="371.4" y="495.5" width="2.6" height="7.5" fill="#e2a408" />
<rect x="371.4" y="509.0" width="2.6" height="7.5" fill="#e2a408" />
<rect x="375.7" y="495.5" width="2.6" height="7.5" fill="#e2a408" />
<rect x="375.7" y="509.0" width="2.6" height="7.5" fill="#e2a408" />
<rect x="380.0" y="495.5" width="2.6" height="7.5" fill="#e2a408" />
<rect x="380.0" y="509.0" width="2.6" height="7.5" fill="#e2a408" />
<rect x="319.1" y="521.6" width="10.8" height="10.8" rx="2" fill="none" stroke="#d4fdd4" stroke-width="1.3"/>
<rect x="320.5" y="523.0" width="8.0" height="8.0" rx="1" fill="#e2a408" stroke="#004000" stroke-width="1.1"/>
<rect x="334.6" y="521.6" width="10.8" height="10.8" rx="2" fill="none" stroke="#d4fdd4" stroke-width="1.3"/>
<rect x="336.0" y="523.0" width="8.0" height="8.0" rx="1" fill="#e2a408" stroke="#004000" stroke-width="1.1"/>
<rect x="359.6" y="521.6" width="10.8" height="10.8" rx="2" fill="none" stroke="#d4fdd4" stroke-width="1.3"/>
<rect x="361.0" y="523.0" width="8.0" height="8.0" rx="1" fill="#e2a408" stroke="#004000" stroke-width="1.1"/>
<rect x="371.6" y="521.6" width="10.8" height="10.8" rx="2" fill="none" stroke="#d4fdd4" stroke-width="1.3"/>
<rect x="373.0" y="523.0" width="8.0" height="8.0" rx="1" fill="#e2a408" stroke="#004000" stroke-width="1.1"/>
<rect x="400.2" y="310.2" width="36.8" height="164.3" fill="none" stroke="#d4fdd4" stroke-width="1.8"/>
<circle cx="410" cy="320.0" r="7" fill="#002c00"/>
<circle cx="410" cy="320.0" r="6" fill="#e2a408"/>
<circle cx="410" cy="320.0" r="3.9" fill="#fff8e0"/>
<circle cx="428" cy="320.0" r="7" fill="#002c00"/>
<circle cx="428" cy="320.0" r="6" fill="#e2a408"/>
<circle cx="428" cy="320.0" r="3.9" fill="#fff8e0"/>
<circle cx="410" cy="338.2" r="7" fill="#002c00"/>
<circle cx="410" cy="338.2" r="6" fill="#e2a408"/>
<circle cx="410" cy="338.2" r="3.9" fill="#fff8e0"/>
<circle cx="428" cy="338.2" r="7" fill="#002c00"/>
<circle cx="428" cy="338.2" r="6" fill="#e2a408"/>
<circle cx="428" cy="338.2" r="3.9" fill="#fff8e0"/>
<circle cx="410" cy="356.4" r="7" fill="#002c00"/>
<circle cx="410" cy="356.4" r="6" fill="#e2a408"/>
<circle cx="410" cy="356.4" r="3.9" fill="#fff8e0"/>
<circle cx="428" cy="356.4" r="7" fill="#002c00"/>
<circle cx="428" cy="356.4" r="6" fill="#e2a408"/>
<circle cx="428" cy="356.4" r="3.9" fill="#fff8e0"/>
<circle cx="410" cy="374.6" r="7" fill="#002c00"/>
<circle cx="410" cy="374.6" r="6" fill="#e2a408"/>
<circle cx="410" cy="374.6" r="3.9" fill="#fff8e0"/>
<circle cx="428" cy="374.6" r="7" fill="#002c00"/>
<circle cx="428" cy="374.6" r="6" fill="#e2a408"/>
<circle cx="428" cy="374.6" r="3.9" fill="#fff8e0"/>
<circle cx="410" cy="392.8" r="7" fill="#002c00"/>
<circle cx="410" cy="392.8" r="6" fill="#e2a408"/>
<circle cx="410" cy="392.8" r="3.9" fill="#fff8e0"/>
<circle cx="428" cy="392.8" r="7" fill="#002c00"/>
<circle cx="428" cy="392.8" r="6" fill="#e2a408"/>
<circle cx="428" cy="392.8" r="3.9" fill="#fff8e0"/>
<circle cx="410" cy="411.0" r="7" fill="#002c00"/>
<circle cx="410" cy="411.0" r="6" fill="#e2a408"/>
<circle cx="410" cy="411.0" r="3.9" fill="#fff8e0"/>
<circle cx="428" cy="411.0" r="7" fill="#002c00"/>
<circle cx="428" cy="411.0" r="6" fill="#e2a408"/>
<circle cx="428" cy="411.0" r="3.9" fill="#fff8e0"/>
<circle cx="410" cy="429.2" r="7" fill="#002c00"/>
<circle cx="410" cy="429.2" r="6" fill="#e2a408"/>
<circle cx="410" cy="429.2" r="3.9" fill="#fff8e0"/>
<circle cx="428" cy="429.2" r="7" fill="#002c00"/>
<circle cx="428" cy="429.2" r="6" fill="#e2a408"/>
<circle cx="428" cy="429.2" r="3.9" fill="#fff8e0"/>
<circle cx="410" cy="447.4" r="7" fill="#002c00"/>
<circle cx="410" cy="447.4" r="6" fill="#e2a408"/>
<circle cx="410" cy="447.4" r="3.9" fill="#fff8e0"/>
<circle cx="428" cy="447.4" r="7" fill="#002c00"/>
<circle cx="428" cy="447.4" r="6" fill="#e2a408"/>
<circle cx="428" cy="447.4" r="3.9" fill="#fff8e0"/>
<circle cx="410" cy="465.6" r="7" fill="#002c00"/>
<circle cx="410" cy="465.6" r="6" fill="#e2a408"/>
<circle cx="410" cy="465.6" r="3.9" fill="#fff8e0"/>
<circle cx="428" cy="465.6" r="7" fill="#002c00"/>
<rect x="422.0" y="459.6" width="12.0" height="12.0" fill="#e2a408" />
<circle cx="428" cy="465.6" r="3.9" fill="#fff8e0"/>
<rect x="36.7" y="466.1" width="9.8" height="3.2" fill="#e2a408" stroke="#045a04" stroke-width="0.5"/>
<rect x="36.7" y="470.6" width="9.8" height="3.2" fill="#e2a408" stroke="#045a04" stroke-width="0.5"/>
<rect x="36.7" y="475.1" width="9.8" height="3.2" fill="#e2a408" stroke="#045a04" stroke-width="0.5"/>
<rect x="36.7" y="479.6" width="9.8" height="3.2" fill="#e2a408" stroke="#045a04" stroke-width="0.5"/>
<path d="M46.5,466.0 L46.5,462.0 L79.5,462.0 L79.5,466.0" fill="none" stroke="#d4fdd4" stroke-width="1.8" />
<path d="M46.5,482.0 L46.5,486.0 L58.0,486.0 L63.0,482.0 L68.0,486.0 L79.5,486.0 L79.5,482.0" fill="none" stroke="#d4fdd4" stroke-width="1.8" />
<rect x="79.5" y="466.1" width="9.0" height="3.2" fill="#e2a408" stroke="#045a04" stroke-width="0.5"/>
<rect x="79.5" y="470.6" width="9.0" height="3.2" fill="#e2a408" stroke="#045a04" stroke-width="0.5"/>
<rect x="79.5" y="475.1" width="9.0" height="3.2" fill="#e2a408" stroke="#045a04" stroke-width="0.5"/>
<rect x="79.5" y="479.6" width="9.0" height="3.2" fill="#e2a408" stroke="#045a04" stroke-width="0.5"/>
<rect x="129.0" y="466.1" width="9.0" height="3.2" fill="#e2a408" stroke="#045a04" stroke-width="0.5"/>
<rect x="129.0" y="470.6" width="9.0" height="3.2" fill="#e2a408" stroke="#045a04" stroke-width="0.5"/>
<rect x="129.0" y="475.1" width="9.0" height="3.2" fill="#e2a408" stroke="#045a04" stroke-width="0.5"/>
<rect x="129.0" y="479.6" width="9.0" height="3.2" fill="#e2a408" stroke="#045a04" stroke-width="0.5"/>
<path d="M138.0,466.0 L138.0,462.0 L149.5,462.0 L154.5,466.0 L159.5,462.0 L171.0,462.0 L171.0,466.0" fill="none" stroke="#d4fdd4" stroke-width="1.8" />
<path d="M138.0,482.0 L138.0,486.0 L171.0,486.0 L171.0,482.0" fill="none" stroke="#d4fdd4" stroke-width="1.8" />
<rect x="171.0" y="466.1" width="9.5" height="3.2" fill="#e2a408" stroke="#045a04" stroke-width="0.5"/>
<rect x="171.0" y="470.6" width="9.5" height="3.2" fill="#e2a408" stroke="#045a04" stroke-width="0.5"/>
<rect x="171.0" y="475.1" width="9.5" height="3.2" fill="#e2a408" stroke="#045a04" stroke-width="0.5"/>
<rect x="171.0" y="479.6" width="9.5" height="3.2" fill="#e2a408" stroke="#045a04" stroke-width="0.5"/>
<rect x="188.0" y="466.1" width="9.7" height="3.2" fill="#e2a408" stroke="#045a04" stroke-width="0.5"/>
<rect x="188.0" y="470.6" width="9.7" height="3.2" fill="#e2a408" stroke="#045a04" stroke-width="0.5"/>
<rect x="188.0" y="475.1" width="9.7" height="3.2" fill="#e2a408" stroke="#045a04" stroke-width="0.5"/>
<rect x="188.0" y="479.6" width="9.7" height="3.2" fill="#e2a408" stroke="#045a04" stroke-width="0.5"/>
<path d="M197.7,466.0 L197.7,462.0 L230.7,462.0 L230.7,466.0" fill="none" stroke="#d4fdd4" stroke-width="1.8" />
<path d="M197.7,482.0 L197.7,486.0 L209.2,486.0 L214.2,482.0 L219.2,486.0 L230.7,486.0 L230.7,482.0" fill="none" stroke="#d4fdd4" stroke-width="1.8" />
<rect x="230.7" y="466.1" width="9.8" height="3.2" fill="#e2a408" stroke="#045a04" stroke-width="0.5"/>
<rect x="230.7" y="470.6" width="9.8" height="3.2" fill="#e2a408" stroke="#045a04" stroke-width="0.5"/>
<rect x="230.7" y="475.1" width="9.8" height="3.2" fill="#e2a408" stroke="#045a04" stroke-width="0.5"/>
<rect x="230.7" y="479.6" width="9.8" height="3.2" fill="#e2a408" stroke="#045a04" stroke-width="0.5"/>
<rect x="279.5" y="466.1" width="9.5" height="3.2" fill="#e2a408" stroke="#045a04" stroke-width="0.5"/>
<rect x="279.5" y="470.6" width="9.5" height="3.2" fill="#e2a408" stroke="#045a04" stroke-width="0.5"/>
<rect x="279.5" y="475.1" width="9.5" height="3.2" fill="#e2a408" stroke="#045a04" stroke-width="0.5"/>
<rect x="279.5" y="479.6" width="9.5" height="3.2" fill="#e2a408" stroke="#045a04" stroke-width="0.5"/>
<path d="M289.0,466.0 L289.0,462.0 L299.5,462.0 L304.5,466.0 L309.5,462.0 L320.0,462.0 L320.0,466.0" fill="none" stroke="#d4fdd4" stroke-width="1.8" />
<path d="M289.0,482.0 L289.0,486.0 L320.0,486.0 L320.0,482.0" fill="none" stroke="#d4fdd4" stroke-width="1.8" />
<rect x="320.0" y="466.1" width="11.0" height="3.2" fill="#e2a408" stroke="#045a04" stroke-width="0.5"/>
<rect x="320.0" y="470.6" width="11.0" height="3.2" fill="#e2a408" stroke="#045a04" stroke-width="0.5"/>
<rect x="320.0" y="475.1" width="11.0" height="3.2" fill="#e2a408" stroke="#045a04" stroke-width="0.5"/>
<rect x="320.0" y="479.6" width="11.0" height="3.2" fill="#e2a408" stroke="#045a04" stroke-width="0.5"/>
<rect x="92.6" y="458.0" width="15.8" height="11.3" rx="2" fill="none" stroke="#d4fdd4" stroke-width="1.3"/>
<rect x="94.0" y="459.4" width="13.0" height="8.5" rx="1" fill="#e2a408" stroke="#004000" stroke-width="1.1"/>
<rect x="112.1" y="458.0" width="15.8" height="11.3" rx="2" fill="none" stroke="#d4fdd4" stroke-width="1.3"/>
<rect x="113.5" y="459.4" width="13.0" height="8.5" rx="1" fill="#e2a408" stroke="#004000" stroke-width="1.1"/>
<rect x="92.6" y="480.8" width="15.8" height="11.3" rx="2" fill="none" stroke="#d4fdd4" stroke-width="1.3"/>
<rect x="94.0" y="482.1" width="13.0" height="8.5" rx="1" fill="#e2a408" stroke="#004000" stroke-width="1.1"/>
<rect x="112.1" y="480.8" width="15.8" height="11.3" rx="2" fill="none" stroke="#d4fdd4" stroke-width="1.3"/>
<rect x="113.5" y="482.1" width="13.0" height="8.5" rx="1" fill="#e2a408" stroke="#004000" stroke-width="1.1"/>
<rect x="243.1" y="458.0" width="15.8" height="11.3" rx="2" fill="none" stroke="#d4fdd4" stroke-width="1.3"/>
<rect x="244.5" y="459.4" width="13.0" height="8.5" rx="1" fill="#e2a408" stroke="#004000" stroke-width="1.1"/>
<rect x="262.6" y="458.0" width="15.8" height="11.3" rx="2" fill="none" stroke="#d4fdd4" stroke-width="1.3"/>
<rect x="264.0" y="459.4" width="13.0" height="8.5" rx="1" fill="#e2a408" stroke="#004000" stroke-width="1.1"/>
<rect x="243.1" y="480.8" width="15.8" height="11.3" rx="2" fill="none" stroke="#d4fdd4" stroke-width="1.3"/>
<rect x="244.5" y="482.1" width="13.0" height="8.5" rx="1" fill="#e2a408" stroke="#004000" stroke-width="1.1"/>
<rect x="262.6" y="480.8" width="15.8" height="11.3" rx="2" fill="none" stroke="#d4fdd4" stroke-width="1.3"/>
<rect x="264.0" y="482.1" width="13.0" height="8.5" rx="1" fill="#e2a408" stroke="#004000" stroke-width="1.1"/>
</g>
</g>
<rect x="35" y="300.5" width="269.2" height="154.5" fill="none" stroke="#e4401a" stroke-width="3"/>
<path d="M644,760.5 L644,773.5 L647,771 L649.5,775 L651.5,774 L649.3,770 L653.5,769.8 Z" fill="#fff" stroke="#6e6e6e" stroke-width="1.5" stroke-linejoin="round"/>
</svg></body></html>
